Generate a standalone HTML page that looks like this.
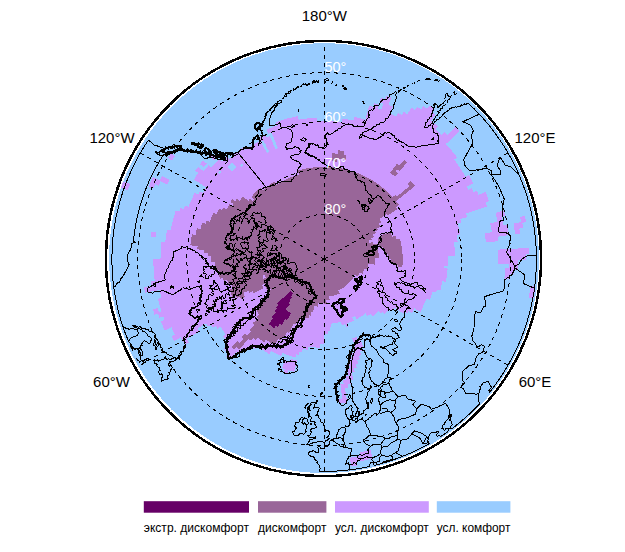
<!DOCTYPE html><html><head><meta charset="utf-8"><title>map</title><style>html,body{margin:0;padding:0;background:#fff}svg{display:block}text{font-family:"Liberation Sans",sans-serif}</style></head><body>
<svg width="625" height="552" viewBox="0 0 625 552">
<rect width="625" height="552" fill="#fff"/>
<defs><clipPath id="disc"><circle cx="324.0" cy="258.1" r="214.9"/></clipPath><clipPath id="d45"><circle cx="324.2" cy="259.1" r="212.9"/></clipPath></defs>
<circle cx="324.0" cy="258.1" r="214.9" fill="#99ccff" shape-rendering="crispEdges"/>
<g clip-path="url(#disc)" shape-rendering="crispEdges">
<path d="M121.8 180.9A217 217 0 0 0 119.5 187.1L124.2 188.8A212 212 0 0 1 126.5 182.7ZM125.4 182.3A213.1 213.1 0 0 0 123.2 188.4L127.9 190.1A208.1 208.1 0 0 1 130.1 184.1ZM533.6 298.4A213.1 213.1 0 0 0 535.5 286.5L530.5 285.8A208.1 208.1 0 0 1 528.7 297.4ZM351.1 466.5A209.2 209.2 0 0 0 357.4 465.6L356.6 460.7A204.2 204.2 0 0 1 350.4 461.6ZM350.6 462.7A205.3 205.3 0 0 0 372.5 458.6L371.4 453.8A200.3 200.3 0 0 1 349.9 457.7ZM529.4 254.2A205.3 205.3 0 0 0 529.2 247.9L524.2 248.2A200.3 200.3 0 0 1 524.4 254.3ZM526.1 222.1A205.3 205.3 0 0 0 524.9 216L520 217A200.3 200.3 0 0 1 521.2 223ZM360.5 457.2A201.4 201.4 0 0 0 371.6 454.8L370.5 450A196.4 196.4 0 0 1 359.6 452.3ZM525.6 259.5A201.4 201.4 0 0 0 525.3 248.1L520.3 248.4A196.4 196.4 0 0 1 520.6 259.5ZM523.2 228A201.4 201.4 0 0 0 522.1 222L517.3 222.9A196.4 196.4 0 0 1 518.3 228.8ZM521.7 259.5A197.5 197.5 0 0 0 521.4 248.3L516.5 248.6A192.6 192.6 0 0 1 516.8 259.5ZM520.1 233.7A197.5 197.5 0 0 0 518.3 222.7L513.5 223.6A192.6 192.6 0 0 1 515.2 234.4ZM517.6 269.6A193.7 193.7 0 0 0 517.6 248.6L512.7 248.8A188.8 188.8 0 0 1 512.7 269.4ZM153 177A189.9 189.9 0 0 0 148.6 186.8L153.2 188.7A185 185 0 0 1 157.4 179.1ZM513.5 274.4A189.9 189.9 0 0 0 513.8 248.8L508.9 249A185 185 0 0 1 508.6 274ZM171.1 153.4A186.1 186.1 0 0 0 167.9 158.1L172 160.7A181.2 181.2 0 0 1 175.1 156.2ZM156.4 178.6A186.1 186.1 0 0 0 154.1 183.8L158.5 185.8A181.2 181.2 0 0 1 160.8 180.8ZM509.2 278.9A186.1 186.1 0 0 0 510 268.4L505.2 268.2A181.2 181.2 0 0 1 504.4 278.4ZM510.2 264.4A186.1 186.1 0 0 0 510 249L505.1 249.2A181.2 181.2 0 0 1 505.3 264.2ZM508.7 235.2A186.1 186.1 0 0 0 507.1 224.8L502.3 225.7A181.2 181.2 0 0 1 503.9 235.8ZM505.2 216A186.1 186.1 0 0 0 503.8 210.6L499.1 211.8A181.2 181.2 0 0 1 500.5 217.2ZM459.4 131.3A186.1 186.1 0 0 0 455.5 127.3L452 130.7A181.2 181.2 0 0 1 455.9 134.7ZM433.9 108.8A186.1 186.1 0 0 0 429.3 105.5L426.5 109.6A181.2 181.2 0 0 1 431 112.7ZM162 176A182.3 182.3 0 0 0 159.5 181L163.9 183.1A177.4 177.4 0 0 1 166.3 178.2ZM144.1 287.2A182.3 182.3 0 0 0 145 292.7L149.8 291.8A177.4 177.4 0 0 1 148.9 286.5ZM506.4 264.3A182.3 182.3 0 0 0 506.2 249.2L501.4 249.4A177.4 177.4 0 0 1 501.5 264.1ZM505 235.7A182.3 182.3 0 0 0 500.2 211.6L495.5 212.8A177.4 177.4 0 0 1 500.1 236.3ZM456.7 133.9A182.3 182.3 0 0 0 452.8 129.9L449.4 133.4A177.4 177.4 0 0 1 453.2 137.2ZM435.5 114.7A182.3 182.3 0 0 0 423.2 106L420.5 110.1A177.4 177.4 0 0 1 432.5 118.6ZM165.3 177.7A178.5 178.5 0 0 0 162.9 182.6L167.3 184.7A173.7 173.7 0 0 1 169.6 179.9ZM147.8 286.7A178.5 178.5 0 0 0 148.7 292L153.5 291.1A173.7 173.7 0 0 1 152.6 285.9ZM152.9 309.4A178.5 178.5 0 0 0 154.5 314.6L159.1 313.1A173.7 173.7 0 0 1 157.6 308.1ZM502.6 264.1A178.5 178.5 0 0 0 502.5 249.4L497.6 249.6A173.7 173.7 0 0 1 497.8 264ZM501.2 236.2A178.5 178.5 0 0 0 498.7 221.6L494 222.6A173.7 173.7 0 0 1 496.4 236.8ZM454 136.5A178.5 178.5 0 0 0 450.2 132.6L446.7 136A173.7 173.7 0 0 1 450.4 139.8ZM433.2 117.7A178.5 178.5 0 0 0 417.2 106.7L414.6 110.8A173.7 173.7 0 0 1 430.2 121.5ZM151.6 231.4A174.8 174.8 0 0 0 150.9 236.7L155.7 237.3A169.9 169.9 0 0 1 156.4 232.2ZM150.9 281.5A174.8 174.8 0 0 0 152.4 291.3L157.2 290.4A169.9 169.9 0 0 1 155.7 280.9ZM157.9 312.8A174.8 174.8 0 0 0 159.6 317.8L164.1 316.2A169.9 169.9 0 0 1 162.5 311.3ZM160.9 321.4A174.8 174.8 0 0 0 164.7 330.5L169.1 328.5A169.9 169.9 0 0 1 165.4 319.7ZM498.1 241.2A174.8 174.8 0 0 0 495.1 222.4L490.3 223.4A169.9 169.9 0 0 1 493.2 241.7ZM489.1 201.1A174.8 174.8 0 0 0 485.5 191.9L481.1 193.7A169.9 169.9 0 0 1 484.5 202.7ZM451.2 139.1A174.8 174.8 0 0 0 444.2 132.1L440.9 135.6A169.9 169.9 0 0 1 447.7 142.4ZM438 126.4A174.8 174.8 0 0 0 411.3 107.6L408.9 111.8A169.9 169.9 0 0 1 434.8 130.1ZM391.4 97.8A174.8 174.8 0 0 0 386.5 95.8L384.8 100.3A169.9 169.9 0 0 1 389.6 102.2ZM153.2 258.7A171 171 0 0 0 156.1 290.6L160.8 289.7A166.2 166.2 0 0 1 158 258.8ZM157.8 298.7A171 171 0 0 0 168.1 329L172.5 327A166.2 166.2 0 0 1 162.5 297.6ZM171.6 336.4A171 171 0 0 0 174.1 341L178.3 338.7A166.2 166.2 0 0 1 175.9 334.3ZM494.3 241.6A171 171 0 0 0 493.1 232L488.3 232.8A166.2 166.2 0 0 1 489.5 242.1ZM487 206.6A171 171 0 0 0 482.1 193.3L477.6 195.2A166.2 166.2 0 0 1 482.4 208.1ZM448.5 141.6A171 171 0 0 0 409.4 110.8L407 115A166.2 166.2 0 0 1 445 144.9ZM390 101.2A171 171 0 0 0 381 97.8L379.4 102.3A166.2 166.2 0 0 1 388.1 105.7ZM156.9 258.7A167.3 167.3 0 0 0 177.3 339.2L181.5 336.9A162.5 162.5 0 0 1 161.7 258.8ZM490.6 242A167.3 167.3 0 0 0 489.4 232.6L484.7 233.3A162.5 162.5 0 0 1 485.9 242.5ZM483.4 207.7A167.3 167.3 0 0 0 476.9 190.7L472.5 192.7A162.5 162.5 0 0 1 478.9 209.2ZM473.4 183.5A167.3 167.3 0 0 0 468.9 175.1L464.8 177.5A162.5 162.5 0 0 1 469.2 185.6ZM457.2 157.5A167.3 167.3 0 0 0 403.7 111.9L401.4 116.1A162.5 162.5 0 0 1 453.3 160.4ZM392.6 106.4A167.3 167.3 0 0 0 383.8 102.8L382.1 107.3A162.5 162.5 0 0 1 390.6 110.8ZM161.5 241.7A163.6 163.6 0 0 0 184.9 344.9L188.9 342.4A158.8 158.8 0 0 1 166.3 242.2ZM479.9 208.9A163.6 163.6 0 0 0 471.7 188.4L467.4 190.4A158.8 158.8 0 0 1 475.4 210.3ZM470.1 185.1A163.6 163.6 0 0 0 398.2 113.2L396 117.4A158.8 158.8 0 0 1 465.9 187.3ZM391.1 109.8A163.6 163.6 0 0 0 382.5 106.2L380.8 110.7A158.8 158.8 0 0 1 389.1 114.1ZM379.1 105A163.6 163.6 0 0 0 374.4 103.4L373 107.9A158.8 158.8 0 0 1 377.5 109.5ZM167 229.6A159.9 159.9 0 0 0 185.9 339.4L190 337A155.2 155.2 0 0 1 171.7 230.5ZM476.4 210A159.9 159.9 0 0 0 369.3 105.7L368 110.2A155.2 155.2 0 0 1 471.9 211.5ZM203 160.5A156.3 156.3 0 0 0 200 164.2L203.8 167.1A151.5 151.5 0 0 1 206.7 163.5ZM198 167A156.3 156.3 0 0 0 195.2 170.9L199.2 173.5A151.5 151.5 0 0 1 201.8 169.8ZM175.7 210.5A156.3 156.3 0 0 0 189 337.5L193.1 335.1A151.5 151.5 0 0 1 180.2 212ZM472.9 211.1A156.3 156.3 0 0 0 368.3 109.2L366.9 113.7A151.5 151.5 0 0 1 468.4 212.6ZM213.7 153.8A152.6 152.6 0 0 0 210.6 157.2L214.1 160.4A147.9 147.9 0 0 1 217.2 157.1ZM200.9 169.1A152.6 152.6 0 0 0 193.9 179.6L198 182.1A147.9 147.9 0 0 1 204.8 171.9ZM180.5 207.9A152.6 152.6 0 0 0 192.2 335.7L196.3 333.3A147.9 147.9 0 0 1 184.9 209.4ZM469.4 212.2A152.6 152.6 0 0 0 367.2 112.7L365.9 117.2A147.9 147.9 0 0 1 464.9 213.7ZM208.6 165.1A149 149 0 0 0 197 181.5L201.1 184A144.2 144.2 0 0 1 212.3 168.1ZM185.2 205.4A149 149 0 0 0 195.3 333.9L199.4 331.5A144.2 144.2 0 0 1 189.6 207.1ZM467.1 217.1A149 149 0 0 0 366.2 116.2L364.9 120.7A144.2 144.2 0 0 1 462.6 218.4ZM298 116.1A145.3 145.3 0 0 0 275.4 122.2L277 126.6A140.6 140.6 0 0 1 298.9 120.8ZM219 158.8A145.3 145.3 0 0 0 200.1 183.4L204.1 185.9A140.6 140.6 0 0 1 222.4 162.1ZM194.8 192.8A145.3 145.3 0 0 0 196.6 328.7L200.8 326.5A140.6 140.6 0 0 1 199 195ZM339.1 403.7A145.3 145.3 0 0 0 347.2 402.6L346.5 397.9A140.6 140.6 0 0 1 338.6 399ZM463.6 218.1A145.3 145.3 0 0 0 354.1 116.9L353.1 121.5A140.6 140.6 0 0 1 459.1 219.4ZM317.1 117.6A141.7 141.7 0 0 0 266.3 129.7L268.2 134A137 137 0 0 1 317.3 122.2ZM226.9 156.1A141.7 141.7 0 0 0 203.2 185.3L207.2 187.8A137 137 0 0 1 230.1 159.5ZM199.8 191.2A141.7 141.7 0 0 0 199.8 327L203.9 324.7A137 137 0 0 1 203.9 193.5ZM342.4 399.7A141.7 141.7 0 0 0 346.7 399L345.9 394.4A137 137 0 0 1 341.8 395ZM461.2 222.7A141.7 141.7 0 0 0 342.4 118.5L341.8 123.2A137 137 0 0 1 456.6 223.9ZM265 134.3A138.1 138.1 0 0 0 258 137.9L260.3 142A133.4 133.4 0 0 1 267 138.5ZM243.2 147.2A138.1 138.1 0 0 0 219 169.6L222.6 172.7A133.4 133.4 0 0 1 246 151ZM217 172A138.1 138.1 0 0 0 203 325.3L207.1 323A133.4 133.4 0 0 1 220.7 174.9ZM226.3 356.6A138.1 138.1 0 0 0 229.3 359.5L232.6 356.1A133.4 133.4 0 0 1 229.6 353.3ZM341.9 396.1A138.1 138.1 0 0 0 346.1 395.5L345.3 390.8A133.4 133.4 0 0 1 341.3 391.4ZM460.1 234.2A138.1 138.1 0 0 0 271.1 131.6L272.9 135.9A133.4 133.4 0 0 1 455.5 235.1ZM269.7 136.1A134.5 134.5 0 0 0 262.9 139.4L265 143.5A129.9 129.9 0 0 1 271.6 140.4ZM260.3 140.7A134.5 134.5 0 0 0 231.4 161.7L234.6 165.1A129.9 129.9 0 0 1 262.5 144.8ZM226.8 166.3A134.5 134.5 0 0 0 207.8 326.6L211.9 324.3A129.9 129.9 0 0 1 230.2 169.5ZM224 348.9A134.5 134.5 0 0 0 231.8 356.9L235 353.5A129.9 129.9 0 0 1 227.5 345.8ZM341.5 392.5A134.5 134.5 0 0 0 345.5 391.9L344.8 387.3A129.9 129.9 0 0 1 340.9 387.9ZM457.6 241.8A134.5 134.5 0 0 0 272.5 134.9L274.3 139.2A129.9 129.9 0 0 1 453 242.4ZM271.2 139.4A131 131 0 0 0 264.5 142.5L266.6 146.7A126.3 126.3 0 0 1 273.1 143.6ZM262 143.9A131 131 0 0 0 233.9 164.3L237.1 167.7A126.3 126.3 0 0 1 264.2 148ZM229.4 168.8A131 131 0 0 0 212.7 327.8L216.7 325.3A126.3 126.3 0 0 1 232.8 172ZM224.4 343.9A131 131 0 0 0 234.3 354.3L237.5 350.9A126.3 126.3 0 0 1 228 340.9ZM341 389A131 131 0 0 0 348.3 387.8L347.5 383.2A126.3 126.3 0 0 1 340.4 384.3ZM455.1 255.9A131 131 0 0 0 273.8 138.2L275.6 142.5A126.3 126.3 0 0 1 450.5 256.1ZM272.6 142.6A127.4 127.4 0 0 0 266.1 145.7L268.2 149.9A122.7 122.7 0 0 1 274.5 146.9ZM263.6 147A127.4 127.4 0 0 0 241.3 162.4L244.3 165.9A122.7 122.7 0 0 1 265.9 151.1ZM239.2 164.2A127.4 127.4 0 0 0 217.5 328.7L221.4 326.2A122.7 122.7 0 0 1 242.3 167.7ZM223 336.4A127.4 127.4 0 0 0 239.2 354L242.3 350.5A122.7 122.7 0 0 1 226.7 333.6ZM343.9 385A127.4 127.4 0 0 0 350.9 383.7L350 379.1A122.7 122.7 0 0 1 343.1 380.4ZM451.6 256A127.4 127.4 0 0 0 275.2 141.5L277 145.8A122.7 122.7 0 0 1 446.9 256.1ZM274.1 145.9A123.8 123.8 0 0 0 267.7 148.9L269.9 153A119.2 119.2 0 0 1 275.9 150.1ZM265.3 150.1A123.8 123.8 0 0 0 241.5 351.3L244.6 347.8A119.2 119.2 0 0 1 267.5 154.2ZM346.5 380.9A123.8 123.8 0 0 0 353.4 379.5L352.3 374.9A119.2 119.2 0 0 1 345.7 376.3ZM445.9 281.9A123.8 123.8 0 0 0 447.7 268.6L443.1 268.2A119.2 119.2 0 0 1 441.4 281.1ZM447.9 265.8A123.8 123.8 0 0 0 276.6 144.8L278.4 149.1A119.2 119.2 0 0 1 443.2 265.6ZM283.8 372.4A120.3 120.3 0 0 0 287.3 373.6L288.7 369.2A115.7 115.7 0 0 1 285.4 368.1ZM349 376.8A120.3 120.3 0 0 0 352.5 376L351.4 371.5A115.7 115.7 0 0 1 348 372.3ZM440.3 290.5A120.3 120.3 0 1 0 246.3 350.7L249.3 347.2A115.7 115.7 0 1 1 435.9 289.3ZM282.1 368A116.8 116.8 0 0 0 294.2 372L295.4 367.5A112.1 112.1 0 0 1 283.8 363.7ZM348.2 373.4A116.8 116.8 0 0 0 354.7 371.8L353.5 367.4A112.1 112.1 0 0 1 347.3 368.8ZM436.1 292.5A116.8 116.8 0 1 0 250.9 350L253.8 346.4A112.1 112.1 0 1 1 431.7 291.2ZM283.4 364.7A113.2 113.2 0 0 0 295.1 368.5L296.3 364.1A108.6 108.6 0 0 1 285.1 360.4ZM350.4 369.3A113.2 113.2 0 0 0 356.6 367.6L355.3 363.2A108.6 108.6 0 0 1 349.3 364.8ZM429.8 299.9A113.2 113.2 0 1 0 255.4 349.1L258.2 345.4A108.6 108.6 0 1 1 425.5 298.2ZM290.1 363.4A109.7 109.7 0 0 0 296 365.2L297.2 360.7A105.1 105.1 0 0 1 291.5 359ZM349.6 365.9A109.7 109.7 0 0 0 358.3 363.4L356.9 359A105.1 105.1 0 0 1 348.5 361.4ZM420.5 311.7A109.7 109.7 0 1 0 269.5 354.2L271.8 350.3A105.1 105.1 0 1 1 416.5 309.5ZM351.5 361.8A106.2 106.2 0 0 0 359.9 359.2L358.3 354.8A101.6 101.6 0 0 1 350.3 357.3ZM417.5 310A106.2 106.2 0 1 0 281.2 356.2L283.1 352A101.6 101.6 0 1 1 413.4 307.8ZM353.2 357.7A102.7 102.7 0 0 0 361.2 354.9L359.6 350.7A98.2 98.2 0 0 1 351.9 353.3ZM411.7 313A102.7 102.7 0 1 0 295.2 357.7L296.5 353.3A98.2 98.2 0 1 1 407.8 310.6ZM354.7 353.6A99.3 99.3 0 0 0 362.4 350.7L360.6 346.5A94.7 94.7 0 0 1 353.3 349.2ZM407.3 313.3A99.3 99.3 0 1 0 298.7 355L299.9 350.6A94.7 94.7 0 1 1 403.5 310.8ZM356 349.5A95.8 95.8 0 0 0 363.3 346.5L361.5 342.4A91.2 91.2 0 0 1 354.5 345.2ZM403 313.5A95.8 95.8 0 1 0 302 352.3L303.1 347.8A91.2 91.2 0 1 1 399.3 310.9ZM354.8 346.2A92.3 92.3 0 0 0 361.9 343.4L360.1 339.2A87.8 87.8 0 0 1 353.3 341.9ZM400.2 311.6A92.3 92.3 0 1 0 307.6 349.9L308.4 345.4A87.8 87.8 0 1 1 396.4 309ZM353.7 342.9A88.9 88.9 0 0 0 358.4 341.1L356.6 336.9A84.3 84.3 0 0 1 352.2 338.6ZM397.3 309.6A88.9 88.9 0 1 0 319.7 347.9L320 343.3A84.3 84.3 0 1 1 393.6 307ZM391.9 311.2A85.4 85.4 0 1 0 324.4 344.5L324.4 340A80.9 80.9 0 1 1 388.3 308.5ZM385 314.1A82 82 0 1 0 324.4 341.1L324.4 336.5A77.4 77.4 0 1 1 381.6 311ZM381.1 313.3A78.5 78.5 0 1 0 324.4 337.6L324.4 333.1A74 74 0 1 1 377.8 310.2ZM372.9 316.3A75.1 75.1 0 1 0 328.3 334.1L328 329.6A70.6 70.6 0 1 1 369.9 312.9ZM346.2 327.3A71.7 71.7 0 0 0 348.3 326.6L346.8 322.4A67.2 67.2 0 0 1 344.8 323ZM367.7 316.1A71.7 71.7 0 1 0 330 330.6L329.6 326.1A67.2 67.2 0 1 1 365 312.5ZM341.7 325.1A68.3 68.3 0 0 0 353.7 320.7L351.8 316.6A63.8 63.8 0 0 1 340.6 320.7ZM356.7 319.2A68.3 68.3 0 1 0 331.5 327L331 322.5A63.8 63.8 0 1 1 354.5 315.2ZM324.2 324A64.9 64.9 0 1 0 324.2 194.2A64.9 64.9 0 1 0 324.2 324ZM324.2 319.5A60.4 60.4 0 1 1 324.2 198.7A60.4 60.4 0 1 1 324.2 319.5ZM324.2 320.6A61.5 61.5 0 1 0 324.2 197.6A61.5 61.5 0 1 0 324.2 320.6ZM324.2 316.1A57 57 0 1 1 324.2 202.1A57 57 0 1 1 324.2 316.1ZM324.2 317.2A58.1 58.1 0 1 0 324.2 201A58.1 58.1 0 1 0 324.2 317.2ZM324.2 312.7A53.6 53.6 0 1 1 324.2 205.5A53.6 53.6 0 1 1 324.2 312.7ZM324.2 313.8A54.7 54.7 0 1 0 324.2 204.4A54.7 54.7 0 1 0 324.2 313.8ZM324.2 309.3A50.2 50.2 0 1 1 324.2 208.9A50.2 50.2 0 1 1 324.2 309.3ZM324.2 310.4A51.3 51.3 0 1 0 324.2 207.8A51.3 51.3 0 1 0 324.2 310.4ZM324.2 305.9A46.8 46.8 0 1 1 324.2 212.3A46.8 46.8 0 1 1 324.2 305.9ZM324.2 307A47.9 47.9 0 1 0 324.2 211.2A47.9 47.9 0 1 0 324.2 307ZM324.2 302.5A43.4 43.4 0 1 1 324.2 215.7A43.4 43.4 0 1 1 324.2 302.5ZM324.2 303.6A44.5 44.5 0 1 0 324.2 214.6A44.5 44.5 0 1 0 324.2 303.6ZM324.2 299.1A40 40 0 1 1 324.2 219.1A40 40 0 1 1 324.2 299.1ZM324.2 300.2A41.1 41.1 0 1 0 324.2 218A41.1 41.1 0 1 0 324.2 300.2ZM324.2 295.8A36.7 36.7 0 1 1 324.2 222.4A36.7 36.7 0 1 1 324.2 295.8ZM324.2 296.9A37.8 37.8 0 1 0 324.2 221.3A37.8 37.8 0 1 0 324.2 296.9ZM324.2 292.4A33.3 33.3 0 1 1 324.2 225.8A33.3 33.3 0 1 1 324.2 292.4ZM324.2 293.5A34.4 34.4 0 1 0 324.2 224.7A34.4 34.4 0 1 0 324.2 293.5ZM324.2 289A29.9 29.9 0 1 1 324.2 229.2A29.9 29.9 0 1 1 324.2 289ZM324.2 290.1A31 31 0 1 0 324.2 228.1A31 31 0 1 0 324.2 290.1ZM324.2 285.7A26.6 26.6 0 1 1 324.2 232.5A26.6 26.6 0 1 1 324.2 285.7ZM324.2 286.8A27.7 27.7 0 1 0 324.2 231.4A27.7 27.7 0 1 0 324.2 286.8ZM324.2 282.3A23.2 23.2 0 1 1 324.2 235.9A23.2 23.2 0 1 1 324.2 282.3ZM324.2 283.4A24.3 24.3 0 1 0 324.2 234.8A24.3 24.3 0 1 0 324.2 283.4ZM324.2 278.9A19.8 19.8 0 1 1 324.2 239.3A19.8 19.8 0 1 1 324.2 278.9ZM324.2 280A20.9 20.9 0 1 0 324.2 238.2A20.9 20.9 0 1 0 324.2 280ZM324.2 275.6A16.5 16.5 0 1 1 324.2 242.6A16.5 16.5 0 1 1 324.2 275.6ZM324.2 276.7A17.6 17.6 0 1 0 324.2 241.5A17.6 17.6 0 1 0 324.2 276.7ZM324.2 272.2A13.1 13.1 0 1 1 324.2 246A13.1 13.1 0 1 1 324.2 272.2ZM324.2 273.3A14.2 14.2 0 1 0 324.2 244.9A14.2 14.2 0 1 0 324.2 273.3ZM324.2 268.9A9.8 9.8 0 1 1 324.2 249.3A9.8 9.8 0 1 1 324.2 268.9ZM324.2 270A10.9 10.9 0 1 0 324.2 248.2A10.9 10.9 0 1 0 324.2 270ZM324.2 265.5A6.4 6.4 0 1 1 324.2 252.7A6.4 6.4 0 1 1 324.2 265.5ZM324.2 266.6A7.5 7.5 0 1 0 324.2 251.6A7.5 7.5 0 1 0 324.2 266.6ZM324.2 262.2A3.1 3.1 0 1 1 324.2 256A3.1 3.1 0 1 1 324.2 262.2ZM324.2 263.3A4.2 4.2 0 1 0 324.2 254.9A4.2 4.2 0 1 0 324.2 263.3ZM324.2 259.1A0 0 0 1 1 324.2 259.1A0 0 0 1 1 324.2 259.1Z" fill="#cc99ff"/>
<path d="M192 234.3A134.5 134.5 0 0 0 190.4 245.3L195 245.8A129.9 129.9 0 0 1 196.6 235.2ZM196.9 228.3A131 131 0 0 0 193.9 245.7L198.6 246.2A126.3 126.3 0 0 1 201.5 229.4ZM202.1 222.7A127.4 127.4 0 0 0 197.2 249.4L201.8 249.7A122.7 122.7 0 0 1 206.6 224ZM231.6 346.6A127.4 127.4 0 0 0 234.3 349.4L237.6 346.1A122.7 122.7 0 0 1 235 343.4ZM407.1 162.4A127.4 127.4 0 0 0 404.2 159.9L401.2 163.6A122.7 122.7 0 0 1 404.1 165.9ZM206.5 220.6A123.8 123.8 0 0 0 200.7 249.6L205.3 250A119.2 119.2 0 0 1 210.9 222ZM234.2 344.2A123.8 123.8 0 0 0 239.1 349.1L242.3 345.7A119.2 119.2 0 0 1 237.6 341ZM404.8 165.1A123.8 123.8 0 0 0 401.9 162.7L399 166.3A119.2 119.2 0 0 1 401.8 168.6ZM213.2 212.8A120.3 120.3 0 0 0 204.1 253.1L208.7 253.3A115.7 115.7 0 0 1 217.4 214.6ZM239 344A120.3 120.3 0 0 0 241.6 346.5L244.8 343.2A115.7 115.7 0 0 1 242.2 340.7ZM402.5 167.8A120.3 120.3 0 0 0 397.2 163.5L394.4 167.2A115.7 115.7 0 0 1 399.5 171.3ZM218.9 208.6A116.8 116.8 0 0 0 207.5 256.3L212.1 256.4A112.1 112.1 0 0 1 223.1 210.6ZM241.5 341.5A116.8 116.8 0 0 0 244 344L247.2 340.6A112.1 112.1 0 0 1 244.7 338.2ZM415.1 185.8A116.8 116.8 0 0 0 410.8 180.8L407.4 183.9A112.1 112.1 0 0 1 411.5 188.7ZM397.9 168.5A116.8 116.8 0 0 0 395.1 166.3L392.3 170A112.1 112.1 0 0 1 395 172.1ZM223.4 207.5A113.2 113.2 0 0 0 211 262.3L215.6 262.2A108.6 108.6 0 0 1 227.5 209.6ZM241.9 336.9A113.2 113.2 0 0 0 246.4 341.4L249.6 338.1A108.6 108.6 0 0 1 245.2 333.7ZM412.4 188A113.2 113.2 0 0 0 410.2 185.4L406.7 188.4A108.6 108.6 0 0 1 408.8 190.9ZM397.9 173.1A113.2 113.2 0 0 0 393 169.1L390.2 172.8A108.6 108.6 0 0 1 394.9 176.6ZM232.3 199.1A109.7 109.7 0 0 0 230.5 202L234.4 204.4A105.1 105.1 0 0 1 236.1 201.7ZM229.3 204A109.7 109.7 0 0 0 215.1 270.8L219.7 270.3A105.1 105.1 0 0 1 233.3 206.3ZM246.4 336.5A109.7 109.7 0 0 0 250.9 340.8L254 337.4A105.1 105.1 0 0 1 249.7 333.3ZM409.6 190.2A109.7 109.7 0 0 0 407.5 187.7L404 190.7A105.1 105.1 0 0 1 406 193.1ZM344.4 151.2A109.7 109.7 0 0 0 338.3 150.3L337.7 154.8A105.1 105.1 0 0 1 343.6 155.8ZM236.8 198.7A106.2 106.2 0 0 0 219.8 278.7L224.3 277.8A101.6 101.6 0 0 1 240.6 201.4ZM248.9 334.1A106.2 106.2 0 0 0 255.4 340L258.4 336.5A101.6 101.6 0 0 1 252.2 330.8ZM406.9 192.4A106.2 106.2 0 0 0 404.8 189.9L401.4 192.9A101.6 101.6 0 0 1 403.3 195.3ZM346.5 155.2A106.2 106.2 0 0 0 332.3 153.2L332 157.8A101.6 101.6 0 0 1 345.5 159.7ZM242.8 196.4A102.7 102.7 0 0 0 223.7 280.7L228.2 279.7A98.2 98.2 0 0 1 246.4 199.2ZM249.5 329.7A102.7 102.7 0 0 0 264 342.3L266.7 338.6A98.2 98.2 0 0 1 252.9 326.5ZM404.2 194.6A102.7 102.7 0 0 0 402.2 192.2L398.7 195.2A98.2 98.2 0 0 1 400.6 197.5ZM337.8 157.3A102.7 102.7 0 0 0 332 156.7L331.7 161.2A98.2 98.2 0 0 1 337.2 161.8ZM245.6 198.5A99.3 99.3 0 0 0 228.4 285L232.8 283.8A94.7 94.7 0 0 1 249.2 201.3ZM229.7 289.6A99.3 99.3 0 0 0 232.6 297.3L236.8 295.5A94.7 94.7 0 0 1 234.1 288.2ZM252.1 327.3A99.3 99.3 0 0 0 274.8 345.2L277 341.2A94.7 94.7 0 0 1 255.4 324.1ZM401.5 196.8A99.3 99.3 0 0 0 399.5 194.5L396.1 197.5A94.7 94.7 0 0 1 397.9 199.7ZM260.3 187.8A95.8 95.8 0 0 0 251.2 197L254.7 200A91.2 91.2 0 0 1 263.3 191.2ZM249.9 198.7A95.8 95.8 0 0 0 236.8 298.2L240.9 296.4A91.2 91.2 0 0 1 253.4 201.5ZM252.9 323A95.8 95.8 0 0 0 276.5 342.2L278.8 338.2A91.2 91.2 0 0 1 256.3 320ZM398.8 199A95.8 95.8 0 0 0 395.2 194.9L391.9 197.9A91.2 91.2 0 0 1 395.2 201.8ZM274.1 181.6A92.3 92.3 0 0 0 241 299L245.1 297A87.8 87.8 0 0 1 276.6 185.4ZM255.5 320.7A92.3 92.3 0 0 0 280.3 340.3L282.5 336.3A87.8 87.8 0 0 1 258.9 317.7ZM399 205A92.3 92.3 0 0 0 297.8 170.6L299.1 175A87.8 87.8 0 0 1 395.3 207.7ZM256.5 316.7A88.9 88.9 0 0 0 284 338.4L286.1 334.3A84.3 84.3 0 0 1 260 313.7ZM397.5 208.9A88.9 88.9 0 0 0 242.2 293.3L246.4 291.5A84.3 84.3 0 0 1 393.8 211.5ZM256.3 311A85.4 85.4 0 0 0 285.6 335.3L287.6 331.2A80.9 80.9 0 0 1 259.9 308.2ZM394.7 210.9A85.4 85.4 0 0 0 245.4 292L249.5 290.2A80.9 80.9 0 0 1 390.9 213.4ZM257.8 307.1A82 82 0 0 0 289.1 333.2L291 329.1A77.4 77.4 0 0 1 261.5 304.5ZM391.9 212.8A82 82 0 0 0 249.4 292.6L253.5 290.7A77.4 77.4 0 0 1 388.1 215.4ZM259.4 303.4A78.5 78.5 0 0 0 290.5 330.1L292.5 326A74 74 0 0 1 263.1 300.9ZM402.3 267.5A78.5 78.5 0 0 0 400 238.6L395.6 239.8A74 74 0 0 1 397.8 267ZM387.8 213.1A78.5 78.5 0 0 0 253.4 293.1L257.5 291.1A74 74 0 0 1 384.2 215.7ZM262.2 301.5A75.1 75.1 0 0 0 292 327L293.9 322.9A70.6 70.6 0 0 1 265.9 299ZM399.1 265.1A75.1 75.1 0 0 0 395.6 235.7L391.3 237.1A70.6 70.6 0 0 1 394.6 264.8ZM385.1 215.1A75.1 75.1 0 0 0 256.5 291.6L260.6 289.6A70.6 70.6 0 0 1 381.4 217.7ZM264 298A71.7 71.7 0 0 0 295.2 324.7L297 320.5A67.2 67.2 0 0 1 267.8 295.6ZM395.8 263A71.7 71.7 0 0 0 390.4 231.5L386.2 233.3A67.2 67.2 0 0 1 391.3 262.8ZM382.3 217.1A71.7 71.7 0 0 0 259.6 290.1L263.6 288.1A67.2 67.2 0 0 1 378.6 219.7ZM265.9 294.6A68.3 68.3 0 0 0 298.2 322.2L299.9 318.1A63.8 63.8 0 0 1 269.8 292.3ZM392.5 259.2A68.3 68.3 0 0 0 387.2 232.8L383.1 234.6A63.8 63.8 0 0 1 388 259.2ZM381.5 222A68.3 68.3 0 0 0 261.2 285.4L265.3 283.6A63.8 63.8 0 0 1 377.7 224.5ZM262.5 279A64.9 64.9 0 0 0 267.3 290.2L271.2 288A60.4 60.4 0 0 1 266.8 277.6ZM268 291.4A64.9 64.9 0 0 0 302.7 320.3L304.2 316A60.4 60.4 0 0 1 271.9 289.2ZM388.9 254.1A64.9 64.9 0 0 0 384.1 234.2L379.9 235.9A60.4 60.4 0 0 1 384.4 254.5ZM380.4 226.8A64.9 64.9 0 0 0 261.6 276L265.9 274.8A60.4 60.4 0 0 1 376.5 229ZM384.3 246.4A61.5 61.5 0 0 0 381.5 237L377.3 238.6A57 57 0 0 1 379.9 247.4ZM378.3 229.9A61.5 61.5 0 1 0 308.4 318.5L309.6 314.1A57 57 0 1 1 374.3 232ZM376 232.8A58.1 58.1 0 1 0 310.8 315.6L311.8 311.2A53.6 53.6 0 1 1 372 234.9ZM378.9 257.8A54.7 54.7 0 0 0 376.6 243.5L372.3 244.7A50.2 50.2 0 0 1 374.4 257.9ZM374.2 237A54.7 54.7 0 1 0 312.9 312.6L313.9 308.2A50.2 50.2 0 1 1 370.1 238.8ZM375.2 264.6A51.3 51.3 0 0 0 372.5 241.9L368.3 243.4A46.8 46.8 0 0 1 370.7 264.1ZM371.6 239.6A51.3 51.3 0 1 0 313.6 309.3L314.6 304.9A46.8 46.8 0 1 1 367.5 241.3ZM371.8 264.2A47.9 47.9 0 1 0 318 306.6L318.6 302.2A43.4 43.4 0 1 1 367.4 263.7ZM367.5 269.6A44.5 44.5 0 1 0 326.6 303.5L326.4 299.1A40 40 0 1 1 363.1 268.5ZM362.6 273.9A41.1 41.1 0 1 0 329.7 299.9L329.1 295.4A36.7 36.7 0 1 1 358.4 272.3ZM357.8 276.3A37.8 37.8 0 1 0 339.6 293.6L337.8 289.5A33.3 33.3 0 1 1 353.8 274.3ZM324.2 293.5A34.4 34.4 0 1 0 324.2 224.7A34.4 34.4 0 1 0 324.2 293.5ZM324.2 289A29.9 29.9 0 1 1 324.2 229.2A29.9 29.9 0 1 1 324.2 289ZM324.2 290.1A31 31 0 1 0 324.2 228.1A31 31 0 1 0 324.2 290.1ZM324.2 285.7A26.6 26.6 0 1 1 324.2 232.5A26.6 26.6 0 1 1 324.2 285.7ZM324.2 286.8A27.7 27.7 0 1 0 324.2 231.4A27.7 27.7 0 1 0 324.2 286.8ZM324.2 282.3A23.2 23.2 0 1 1 324.2 235.9A23.2 23.2 0 1 1 324.2 282.3ZM324.2 283.4A24.3 24.3 0 1 0 324.2 234.8A24.3 24.3 0 1 0 324.2 283.4ZM324.2 278.9A19.8 19.8 0 1 1 324.2 239.3A19.8 19.8 0 1 1 324.2 278.9ZM324.2 280A20.9 20.9 0 1 0 324.2 238.2A20.9 20.9 0 1 0 324.2 280ZM324.2 275.6A16.5 16.5 0 1 1 324.2 242.6A16.5 16.5 0 1 1 324.2 275.6ZM324.2 276.7A17.6 17.6 0 1 0 324.2 241.5A17.6 17.6 0 1 0 324.2 276.7ZM324.2 272.2A13.1 13.1 0 1 1 324.2 246A13.1 13.1 0 1 1 324.2 272.2ZM324.2 273.3A14.2 14.2 0 1 0 324.2 244.9A14.2 14.2 0 1 0 324.2 273.3ZM324.2 268.9A9.8 9.8 0 1 1 324.2 249.3A9.8 9.8 0 1 1 324.2 268.9ZM324.2 270A10.9 10.9 0 1 0 324.2 248.2A10.9 10.9 0 1 0 324.2 270ZM324.2 265.5A6.4 6.4 0 1 1 324.2 252.7A6.4 6.4 0 1 1 324.2 265.5ZM324.2 266.6A7.5 7.5 0 1 0 324.2 251.6A7.5 7.5 0 1 0 324.2 266.6ZM324.2 262.2A3.1 3.1 0 1 1 324.2 256A3.1 3.1 0 1 1 324.2 262.2ZM324.2 263.3A4.2 4.2 0 1 0 324.2 254.9A4.2 4.2 0 1 0 324.2 263.3ZM324.2 259.1A0 0 0 1 1 324.2 259.1A0 0 0 1 1 324.2 259.1Z" fill="#996699"/>
<path d="M268.6 323.9A85.4 85.4 0 0 0 274.1 328.3L276.8 324.6A80.9 80.9 0 0 1 271.5 320.5ZM270.8 321.3A82 82 0 0 0 277.9 326.8L280.5 323A77.4 77.4 0 0 1 273.8 317.9ZM271.5 317.4A78.5 78.5 0 0 0 281.6 325.1L284 321.3A74 74 0 0 1 274.6 314ZM273.8 314.8A75.1 75.1 0 0 0 283.4 322.2L285.9 318.4A70.6 70.6 0 0 1 276.9 311.5ZM274.7 311A71.7 71.7 0 0 0 286.9 320.3L289.2 316.4A67.2 67.2 0 0 1 277.9 307.7ZM275.8 307.3A68.3 68.3 0 0 0 288.7 317.4L291 313.5A63.8 63.8 0 0 1 279 304.1ZM277.1 303.6A64.9 64.9 0 0 0 284.8 310.6L287.6 307.1A60.4 60.4 0 0 1 280.3 300.6ZM279.5 301.3A61.5 61.5 0 0 0 286.9 307.9L289.6 304.4A57 57 0 0 1 282.8 298.2ZM282 299A58.1 58.1 0 0 0 287.8 304.3L290.6 300.8A53.6 53.6 0 0 1 285.3 295.9ZM284.5 296.6A54.7 54.7 0 0 0 288.8 300.7L291.7 297.3A50.2 50.2 0 0 1 287.7 293.6ZM286.9 294.3A51.3 51.3 0 0 0 290 297.3L293 293.9A46.8 46.8 0 0 1 290.2 291.2Z" fill="#660066"/>
</g>
<g clip-path="url(#d45)" fill="none" stroke="#000" stroke-width="1" stroke-linejoin="round" shape-rendering="crispEdges">
<path d="M319.7 471.9L319.7 470.6L319.6 469.4L320.4 468.2L319.5 467.2L320 466.1L319.7 465.1L318.5 464.8L317.8 463.5L316.9 462.6L317.1 461.4L316.3 460.5L315.1 459.7L314.4 458.2L313.6 457L311.8 456.9L311 456.6L310.1 455.8L309.2 455.2L308.7 454.7L308.1 453.7L309.3 452.3L309.7 451.3L311.1 452.1L312 451.1L313.1 450.9L314.1 450.9L315.1 451.8L315.5 452.9L317.5 452.2L318.8 452.8L319 451.2L318.7 449.6L318.5 448.3L317.4 447.3L319 446.5L319.9 446.7L320.3 448.7L322.1 448.8L323.6 448.9L324.6 448.3L324.8 447.1L325.8 446.4L327.2 446.5L328.2 445.8L328.5 444.6L329.4 444.1L329.4 442.5L329.8 441L330.8 440.8L332 439.6L333.5 439.8L334 438.1L335.8 438.1L336.5 437L336.1 435.5L337.2 434.3L337.3 432.7L338.3 431.5L338.6 430L339.3 429.2L340.5 428.7L341.2 427.6L342.6 427.6L343.7 427.5L344.9 427.4L345.2 425.8L346.4 426.3L347.6 426.6L349.1 425.7L349.4 424.2L350.2 423.5L350.1 423L349.6 422.1L349.6 420.6L348.9 419.2L347.5 418.1L347 416.6L346.9 415.3L345.7 414.5L346 412.8L345.4 411.4L345.9 409.8L346.3 408.5L348.2 408.4L349 406.9L350 406L351.1 404.9L351 406.3L352.3 407.3L351.6 408.7L351.3 409.9L352.2 411L353.3 411.4L352.4 411.6L352.4 413L352.2 414.3L351.7 415.2L350.6 415.7L350.5 417.2L351.6 418.4L352.4 418.9L353 420.5L354 420.6L355.1 421.2L355.9 422.6L357.1 421.5L358.3 420.4L359.7 419.7L361.2 419.2L362.6 419.2L363.4 420.8L365.4 421.2L366.5 420.2L367.7 419.5L368.8 418.7L369.3 417.3L370.8 417.2L371.4 416.2L372.3 415.4L373.2 414.9L374.1 413.8L375.2 413.3L376.4 413.9L376.5 415.2L377.7 414.1L378.9 413.6L379 412.7L379.2 411.3L380.1 410.3L380.4 409.2L381 408.2L380.8 407.6L380.4 406.5L380.4 405.3L379.5 404.4L380 402.7L379.1 401.7L378.5 400.5L378.6 399.3L378.7 398.1L380 397L380.9 395.7L382.1 397.1L383.1 397.9L384.7 397.5L386 397.8L385.8 395.9L385.1 395L384.7 393.6L384.4 392.5L385 391.4L383 391.5L381.5 391.3L381.6 389.3L380.5 388.5L380.9 387.1L382.2 386.3L382.8 385L384.2 384.9L385.6 384.8L386.6 384.3L387.6 383.7L388.6 382.7L389.4 381.4L390 380L391.5 379.2L392.4 378.6L393.6 378.6L392.5 378.5L391.4 378.7L390.3 377.9L389.1 377L387.5 377.7L386.4 378.4L385.3 378.9L384.3 379.9L383.9 381.3L382.7 381.8L382 382.8L381.3 384L380.4 384.8L379.2 385.4L378.3 386.2L377.4 385.1L376.2 384.3L374.9 384.7L374.1 383.5L373 382.9L373 382.2L371.8 381.4L371.3 380.4L370.8 379.3L370.3 378.2L369.7 377L369.7 375.8L369.5 374.6L368.9 373.7L368.9 372.7L369.6 371.6L370.2 370.5L369.5 368.9L370.5 367.6L371.1 366.7L371.3 365.6L371.7 364.5L371.7 363.3L371.6 362L372.7 361.1L371.5 359.8L371 359L370.2 358.4L369.1 359.5L367.7 360.1L366 360L365.7 361.7L366.2 362.9L366 364.1L366.2 364.9L365.5 366.2L365.9 367.3L366.7 368.4L365.6 369.5L365.3 370.7L365.3 371.7L365.1 373L364.3 373.9L364.6 375.3L364.4 376.6L362.8 377.6L362.6 378.8L362.1 380.1L361.8 381.3L362.7 382.3L362.4 383.5L362.8 384.7L363.9 385.8L364.1 387L365.1 387.3L366.4 387.6L367.4 388.5L368.5 388.9L369.1 389.8L368.9 391.6L367.4 392.6L367.9 393.9L367.6 395L367.3 396L366.2 396.7L366 398.1L365.6 399.6L366.5 400.8L366.8 402.3L367 403.6L367.9 404.7L367.6 406.1L367.7 407.5L367.8 408.9L365.9 408.9L365.1 410.1L363.9 410.2L363.3 411.2L363.4 412.3L363.5 413.4L362.2 413.8L361.1 414.1L360 414.3L359.1 413.4L359.3 411.8L357.6 410.9L357.5 409.6L358.3 408.6L357.1 407.6L356.3 406.6L355.6 405.5L355.4 404.5L354.4 403.9L353.9 402.8L353.2 401.9L352.5 400.8L352.3 399.6L351.5 398.6L350.8 397.9L350.1 397.4L350.4 395.9L349.8 394.5L348.9 396L348.7 397.5L349.1 398.7L348.2 399.6L347 400.4L346.3 401.6L346.4 403.3L345.4 404L344.3 404.3L343.7 405.3L342.2 405.1L341 405.2L340.3 403.7L339.6 402.9L338.9 402L337.8 401.1L338.3 399.5L337 398.1L336.3 397.2L337.2 396L337.2 394.8L335.8 393.6L336.4 391.9L335.6 390.9L335.6 389.7L336.2 388.2L335.8 386.8L335.4 385.7L336.2 384.8L337.3 383.8L338.1 382.6L338.9 381.4L340 380.5L341.4 379.7L341.8 378L343.2 377.9L344.1 377.1L344.1 375.6L345 374.5L345.8 373.6L346 372.5L345.9 371.3L347.5 370.7L347.7 369.5L348.4 368.6L347.4 367.1L347.8 366L347.6 364.8L348.8 363.8L348.3 362.5L348.3 361.3L349 360.2L349.9 359.1L350.1 357.9L349.8 356.4L350 355.1L351.5 354L351.4 352.6L352.1 351.3L351.8 349.7L352 348.6L353.2 347.8L353.2 346.6L353.3 345.2L354.9 344.5L355.4 343.6L356.5 342.9L356.6 341.2L358.3 340.8L358 339.1L359.6 338.7L359.8 337.6L360.4 336.6L361.2 336L362.7 336.1L363.7 334.9L365.6 334.8L366.7 335.2L367.7 334.8L368.9 334.7L370.1 334.9L370.6 336.8L370.3 338.2L370.9 337.5L372 337.1L373.5 337.6L374.9 336.9L376.5 336.7L377.5 335.9L378.6 335.7L379.5 334.9L381 335.4L382.2 335.2L383.2 336.3L384.4 336.2L385.5 335.7L386.6 336.1L387.7 336.7L388.8 335.6L389.8 336.9L391 336.7L392 337.1L392.7 338.4L394.2 338.8L393.9 340.4L393.4 341.8L392.3 342.7L392.2 344.5L390.6 344.3L389.4 344.9L388.1 345.4L387.1 345.9L385.9 346.2L384.9 346.9L384 347.2L383 347.8L381.6 347.4L380.7 347.5L379.7 347L381.2 346.6L381.8 348L382.8 348.5L384.1 348.8L385.4 348.8L386.6 349.3L387.5 350.4L388.2 351.4L389.4 352.1L389.9 353.3L390.8 354L392 355L393.4 355.1L394.5 354.1L395.4 353.4L396.7 353.9L396.1 352.3L396 351.3L394.6 351.3L393.5 350.2L392.3 349.5L393.4 349.2L394.4 348.6L395.5 348.8L396.2 347.7L397.3 347.7L398.2 347.1L397.6 346.4L396.5 345.3L395.5 344.7L394.7 343.5L394.7 342L395.4 341L395.6 339.8L396.2 338.7L397.2 338.4L398.4 337.9L399.7 337.6L398.5 336.1L397.6 335.1L397.4 333.4L395.6 333.5L395 332.1L393.9 331.5L392.4 331.5L391.9 329.9L390.9 329.1L391.6 329.2L392.6 328.8L393.5 328.8L394.4 327.7L395.5 328L396.7 328.7L397.7 329.9L398.9 330.6L400.5 330.3L401.7 329.7L401.7 328.3L400.9 327.3L400.4 326.2L400 324.9L399.9 323.5L400.2 322.1L401 321.1L401.2 320L402.6 319.4L402.7 318.3L404.2 317.2L404.4 315.7L404.6 314.2L404.7 313.1L404.5 311.8L405.9 311L406.1 309.6L406 308.3L407.1 308.3L408.2 308.4L409.3 307.6L409 306.8L407.8 305.7L406.7 305.8L405.6 305.2L404.5 304.2L404.4 303.2L405.5 302.3L406.5 302.1L407.2 300.9L408 300.1L409.1 299.6L410.7 299.7L411.8 299.3L412.7 298.6L413.7 298.1L414.4 297L415.2 296.1L416.2 295.2L415.6 294.5L414.2 294.2L413.4 293.2L412.4 294.2L411.3 294.4L410.1 294.3L408.9 294L407.7 293.8L406.4 293.7L405.1 294.1L404.1 293.1L403.1 292.4L402 291.7L401 291.1L401.2 289.6L399.8 289.3L399.4 287.8L398.4 287.2L396.6 287.6L396.1 286L395.7 284.7L396.7 284.3L397 282.7L398.2 282.4L399.3 282.3L400.4 283.3L401.8 282.8L402.7 283.8L404.1 283.7L405.1 284.6L406.1 285.5L407.5 284.7L408.4 285.9L409.6 285.7L410.7 286.7L412.1 286.9L413.6 286.8L414.6 288.2L416.1 287.2L417.3 286.1L418.9 286.7L419.6 287.8L420.7 288.3L421.8 288.7L423 289.3L423.8 290.3L424.8 291.1L425.3 292.4L424.6 291.2L425.3 289.8L425.1 288.7L423.2 288.3L423 286.6L421.7 285.9L420.6 285.1L419.1 285.4L418 284.8L417.3 283.8L417.2 282.4L416 281.9L414.8 282.7L413.5 283.1L412.4 283.8L411.3 284.6L409.8 284.3L408.9 283.1L407.6 283.6L406.7 282.4L405.4 282.8L404.3 282.2L403.5 281.3L402.2 281.2L401.2 280.4L400.5 279.1L399.3 278.7L400.3 278.8L401.1 277.9L402.3 277.5L403.3 277.5L404.6 276.7L405.9 276.8L405 275.6L405.6 274.3L405 273.4L405.4 271.9L405.2 270.5L403.8 271L402.6 271.6L401.1 270.7L400 271.8L398.7 271.4L397.5 271.6L397.1 270.3L397.5 269.1L397.7 268L396.5 266.8L396.9 265.4L396.2 264.2L395.3 263.7L394 263.5L392.7 263.4L391.4 263.1L390.5 262L390.5 260.5L389.3 260L388.2 259.4L388.5 257.8L388.1 256.6L387 255.9L386.1 254.9L385.7 253.9L385.1 252.9L385 251.7L384.2 250.8L383.4 250L382.4 249.1L381.6 247.9L380.9 246.9L379.8 246.4L378.6 246.2L377.6 245.6L378.4 244.4L378.9 243.3L379.5 242.3L379.9 241.2L380.8 240.5L381.3 239.4L379.8 238.8L380 237.7L380.5 236.6L381.2 235.6L380.7 234.2L382.3 233.7L383.6 233.2L385 233L386.3 232.7L387.6 233.2L388.7 232.9L389.9 232.8L390.9 231.5L392.2 232.9L392.1 234.5L392.7 232.9L391.9 231.7L391.9 230.4L390.7 229.4L390.8 228L391.1 226.5L391.2 225.7L391.4 224.7L391.7 223.7L390.4 222.2L390 220.9L389.2 220.2L388.6 218.8L387.8 217.7L386.3 217.4L385 217.8L385 216.9L384.9 215.7L384.2 214.6L384.5 213.3L383.9 211.9L385.5 211L385.4 209.5L386.8 208.8L387 207.6L387.4 206.4L388 205.4L388.9 204.6L390 204.1L388.7 203.5L387.3 204L386.1 203.8L385.3 202.2L384.1 201.2L382.8 200.5L382 199.4L381.9 198L380.6 197.2L379.7 196.5L378.4 195.7L376.9 196L376.1 197.3L374.9 197.9L374.1 198.6L373.1 199.2L371.9 197.9L371.9 196.1L370.8 195.1L369.5 194.3L368.3 193.3L367.7 192.1L366.8 191L365.5 190.4L365.1 189L365.6 187.7L365.9 186.4L364.7 185.4L364.3 184.2L364.5 183L363.6 182.7L362.7 181.9L361.4 182.2L360.6 181L359.6 180.5L358.5 180.3L357.3 180.1L356.8 178.6L355.9 178L356.2 176.6L355.1 175.5L354.7 174.3L355.4 173.2L354.7 172.2L354 171.2L352.7 171.4L351.6 171.7L350.5 171.4L349.5 171L348.4 170.3L347.4 169.5L345.9 170.1L344.9 169.4L343.8 168.5L343.6 166.9L341.9 166.6L340.4 166.1L340.6 166.8L339.7 167.5L338.5 168.2L338 169.1L337.2 168.7L336 168.1L334.7 167.8L333.2 168.2L331.8 168L330.8 166.5L329.7 166.4L328.3 167L327.5 165.8L326.3 165.4L325.2 164.6L324.1 163.8L322.8 163.3L321.5 162.7L320.6 161.6L319.6 160.8L319 159.3L317.2 159.5L316.8 157.8L315.1 157.9L314 157.1L313 155.9L311.7 155.2L310.2 155.3L308.7 155.3L307.6 154.3L306.6 153.8L306.2 152.5L304.7 152.7L305.4 151.2L306.7 150.5L306.2 148.9L307.6 148.2L308.8 147.7L309.6 146.7L308.6 145.1L308.4 143.7L310.6 143.1L312.1 144.3L313.5 143.8L314.7 144.8L316.1 145.4L317.4 145.3L318.4 145.9L318.9 147.3L320.2 147.6L321.9 147.5L323.1 148.6L324 147.2L325 146.2L325.7 145L327 144.7L327.7 143.9L328.2 144.1L329.1 144.8L327.9 143.8L327.3 142.8L326.6 141.8L326.9 140.4L326.6 139.2L325.5 138.2L324.9 137.1L325.6 135.7L326 134.5L327 133.4L327.6 133L328.5 134L329.6 134L330.7 134.3L332.1 133.6L333.1 132.7L334.1 131.8L335.3 131.1L336.3 130.6L337.5 130.5L338 129.1L339.1 128.7L340.4 128.8L341.1 127.5L342 126.6L343 125.8L344.5 125.7L345.3 124.7L347.1 124.7L348.4 123.9L348.9 124.5L350.5 124.2L351.7 124.5L352.8 125.1L353.7 126.1L354.6 127L356 126.4L357.3 126L358.6 126.1L359.9 126.2L361 126.4L362.2 126.7L363.4 127L364.2 125.4L364 123.9L365.5 123.2L365.3 121.7L366.2 120.8L366.5 119.6L367.5 118.7L368.2 118L369.4 117.9L368.9 117.2L368.5 116.2L369.3 114.9L368.7 113.9L368.6 112.6L368.9 111.3L369.9 110.1L370.3 110.1L371.5 109.7L372.6 110.5L373.4 109.1L374.4 108.2L373.9 106.5L374.9 105.7L376.2 105.9L377.3 105.6L378.5 105.5L379.4 104L379.8 103.5L380.2 102.3L380.8 101.3L382.3 100.7L382.4 99.4L383.6 99.9L384.8 99.1L386 99.7L387.2 99L387.6 97.9L388.8 97.4L389.6 96.5L389.3 95L390.9 94.8L392 94.3L392.8 93.3L394 92.9L394.9 92.1L396 91.6L396.5 93.2L396 94.3L395.9 95.5L396.4 96.7L396.6 97.9L395.8 99.2L395 100.2L395.3 101.6L394.7 102.7L394.5 104L393.3 104.9L393.3 106.2L393.6 107.6L393 108.8L392.1 109.8L391.4 110.8L390.8 111.9L391 113.3L390.4 114.4L389.2 115.2L389 116.5L388.3 117.6L387.4 118.5L385.9 118.8L385.7 120.4L384.6 121.1L383.9 122.2L382.7 122.6L381.4 122.5L380.2 122.7L379.4 124L378.4 124.6L377.1 124.3L376.5 125.7L375.7 126.7L374 126.5L373.5 127.7L372.2 128.1L371.6 129.3L370.1 129L369 129.9L367.9 130.6L366.7 131.1L365.4 131.2L364.2 131.8L363 132.3L362.6 134L361.1 134.2L360.8 135.3L360 136.2L359.9 137.4L359.2 138.2L360 137.6L361.4 137.5L362 135.9L363.3 135.9L364.6 135.7L365.2 136.7L366.9 136.8L368.1 137.6L369.7 138.2L370.4 138.7L371.7 138.4L373 138.3L373.6 139.9L374.9 139.6L376.2 139.7L377.1 138.9L378.2 138.7L378.9 137.4L380.3 137.7L381.1 136.5L381.9 135.9L383 135.4L383.8 134.6L383.8 133.1L385.2 132.9L386.3 133L387.4 133L388.5 132.7L389.9 132.9L390.9 133.5L391.8 134.6L392.9 135.3L394.4 135.6L394.6 137.1L395.1 138.4L396.7 139L397.1 140.3L398.6 139.9L399.5 141L400.6 141.5L401.7 142.1L403 142.2L403.9 143.1L404.8 144L405.9 144.5L406.7 145.5L407.9 146L408.9 146.7L410.1 146.1L411.4 146.9L412.6 146.7L413.9 146.4L415.2 147.1L416.5 147.1L417.7 146.5L419 146.1L420.3 146.4L421.5 145.8L422.8 145.7L424.1 146L425.2 145.3L426.4 145.5L427.6 145.3L428.6 144.4L430 145L430.9 143.9L432.4 144.7L433.6 144.6L434.8 144L436 143.3L437.3 143.7L438.5 143.4L439 142.2L437.7 141.1L438.6 139.7L438.6 138.5L438.1 137.3L438.3 136.1L437.6 134.8L437.2 133.8L435.9 134L435.1 132.9L434 132.5L433 131.8L433.6 130.2L433.5 128.8L432.1 127.7L432.5 126.1L433.2 124.8L432.5 123.3L434.3 122.9L434.7 121.4L436.1 121.2L436.5 119.6L437.9 119.3L439.4 119L439.9 117.5L441.1 116.8L442.1 116.2L442.8 115.1L443.3 113.9L444.3 113.1L445.1 112.1L446.8 111.9L447.6 110.9L448.8 110.4L449.3 108.8L450.9 108.7L451.7 107.6L453.1 107.8L454.3 107.6L455.4 106.9L456.8 107.2L457.9 106.5L459 106.2L460.3 106.2L461.1 104.8L462.6 105.6L463.6 104.7L464.6 104L466.2 104.2L467.3 103L469 103.6M429.6 444L428.7 443.1L429 441.5L427.4 441L428.4 439.5L427.8 438L428.3 436.6L429.5 435.5L429.5 434.1L430.9 433.5L431.6 432.4L432.9 432.7L434 433L435.3 432.9L436.4 433L436.9 431.5L438 431L438.3 432.6L437.4 433.4L436.7 434.3L436.3 435.4L437.3 436.3L438.3 435.7L439.5 435.7L440.9 436.6L442.2 435.8M447.5 432.6L447.9 431.4L448.2 430.3L448.3 429L449.7 428.2L448.4 429.1L447.1 428.8L445.8 428.7L445.1 430.2L443.8 429.9L443.2 428.8L441.9 428.2L442.2 426.9L442.6 426L443.2 424.9L444.4 424.2L444.8 422.7L445.8 421.7L446.1 420.7L447.1 419.9L448.2 419.1L448.3 417.8L449.2 417.2L449.7 416L450.8 415.6L451 414.1L451.5 415.8L450.8 417L450.5 418.3L450.1 419.3L449.6 420.6L450.2 420.7L451.1 421.3L451.9 422L451.4 423.5L452.4 424.6L451.6 425.9L450.8 426.2L450.5 427.9L450.9 428.8L451.8 428.7L452.8 428M479.8 404.2L479.5 402.9L478.8 401.7L478.5 400.4L478 399.2L478.9 398L478.9 396.8L478.7 395.6L478.3 394.2L479.1 392.9L479.1 391.5L479.2 390.3L480.5 389.4L480.8 388.3L479.8 386.8L481.2 385.9L481.6 385.1L482.2 384.1L482.9 383.2L484.1 382.7L485.1 382.1L486.4 381.9L487.6 381.5L488.7 381.7L489.1 383.2L489.8 384.2L489.8 385L490.6 386L491.6 386.9L490.6 388.6L489.6 389.7L488.7 390.7L489.7 391.8L489.8 393M369.5 467L369.2 465.8L369.1 464.4L370.5 463.8L371.1 462.3L372.4 462.1L373.6 461.9L373.6 463.1L373.6 464L373.8 465L375.1 466M376 465.5L376.1 464.4L376.5 463.3L376.9 464.3L378.2 464.7M305.7 444.5L306.8 444.1L308 444.7L309.4 444.1L310.8 443.8L311.9 443.1L313 443.4L312.8 442.1L314.8 442L316.2 442.7L317.2 441.7L318.5 442L319.7 441.5L321 441.5L322.4 441.7L323.8 442.3L325.2 442L325.9 440.6L327.2 440.3L328.3 439.2L329.1 438.5L327.6 437.9L326.5 437.6L327.7 436.8L328.4 436L329.5 435.5L329.7 433.8L329.2 432.4L329.2 431.3L328.1 430.8L326.9 430.5L325.7 430.7L324.9 431.6L324.8 430.5L325.1 429.6L324.6 428.7L324 427.8L324.5 426.4L324 425.5L323.8 424.2L323 423.1L321.8 422.7L320.9 422.1L319.9 421.2L320.2 419.6L319.5 418.6L318.8 417.6L318.4 416.8L318.2 415.7L317.1 416L316 415.6L317.3 414.3L317.5 413L317.7 411.7L318.6 410.8L318.7 409.5L319.2 408.3L318.6 407.6L317.7 407.5L316.4 407.9L315.1 407L313.9 407.1L313.3 408.2L314 407.3L314.7 406.5L314.4 404.9L315.3 404L316.7 403.7L316.9 402.7L315.2 402.5L314 403.1L312.8 402.8L311.7 402.1L310.8 403.4L310.6 404.3L310.4 405.9L308.8 406.5L309.4 408L308.9 409.2L309.6 410.5L308.3 411.5L307.6 411.8L308 413.2L309.3 413.8L308.6 415.3L308.5 416.6L308.2 417.9L308.8 416.9L309.9 416.3L310.8 416.5L311.2 417.6L311.5 418.6L310.2 419.7L310.2 421.3L310.8 421L311.9 421.1L312.9 421.5L314 420.9L314.2 421.9L315.1 422.7L314.8 423.8L315.1 424.8L316.2 426.1L316 427.6L314.4 428.1L313.9 429L312.7 428.8L311.5 428.9L310.8 429.8L310.9 431.3L311.1 431.8L311.9 432.5L310.3 433.3L309.9 435.2L307.9 435.5L308.4 436.6L309.6 437.5L311.1 437.1L312.2 437.4L313.1 437.9L314.3 437.8L315.5 436.8L315.1 438.3L314 439L313.3 438.9L312.1 439.5L311 438.8L309.9 439.8L309.8 441.2L308.6 441.9L307.9 443L307 444L305.9 444.7M304.6 433.5L303.6 434.2L302.3 433.6L301.1 433.9L299.7 433.8L298.7 435L297.2 435.3L295.7 435L294.3 435.4L293.4 434.6L293.1 433.1L292.7 431.7L294.3 431.3L295 429.7L295.3 428.8L296.5 427.9L295.2 426.7L294.6 425.7L295.6 424.5L295.6 423.3L295.3 422L297 422.3L298.3 422.5L299.5 421.8L299.9 421.3L299.3 420.3L300.4 419.2L300.8 418L302.3 417.6L303.8 418.3L304.7 417.9L305.6 419L306.9 418.7L307.4 420.1L307.8 421.6L308.1 422.4L308.9 423.4L307.3 424.2L306.3 425L306.7 426.7L306.7 428.2L305.6 429.6L306.1 431.1L305.7 432.5L304.7 433.5M303.7 419.1L302.3 419.7L302.2 421.6L301.8 422.4L303 423.3L303.7 424.2L304.9 422.8L305.7 424.6M305 409.2L305.1 407.7L305.6 406.3L306.4 405.2L307.3 404.2L308.2 403.2L307.3 403.7L306.8 404.8L305.8 405.3L305.9 406.7L304.9 407.4L305.1 408.2L305.5 409.1M307 408L308.4 407.2L308.3 408.3L308.3 409.3L307.7 409.8L307.3 407.8M316 401.5L316.3 400.5L317.5 400.3L317.9 401.5L316 401.9M320.8 396.9L320.9 395.4L320.8 393.9L321.3 393.3L322.1 392.6L322 394L320.9 395.3L321.1 397M308.2 385.9L309.4 385.7L310 384.9L309.2 385.6L308.7 386.6L309.2 388L308.7 386.8L308.7 385.7M310.6 424.6L311.2 422.9L311.2 424.6L310.6 424.4M278.2 369.1L278.9 370.4L280.4 369L281.5 369L280.9 371.8L283.1 372L284.3 372.3L285 374.1L286.5 373.2L288.1 374.2L289.2 372.6L290.7 373.9L291.5 372.2L292.8 372.5L294.2 373L295.4 371.5L296.9 371.1L297.8 369.9L296.3 368.4L298.1 367L297.3 365.8L296.5 364.6L295.6 364.1L296.1 362.2L294.6 361.4L292.7 361.1L291.4 362L290.7 360.9L289 361.9L287.8 361.7L286.6 362.1L285.9 360.8L284.9 360.5L284.6 362.4L283.1 362.1L284.4 361.5L283.7 360.4L282.6 359.2L284.1 358.1L282.3 357.2L281.5 359L280.5 360.1L278.7 360.1L280.3 360.1L279.9 362.4L281.4 362.3L280.2 362.6L279.1 363.2L277.7 363L277.7 364.8L279.5 364.9L280.1 366L280.4 367.2L280.1 368.1L278.8 368.3L278.1 369.1M310.9 344.3L312 344.2L312.8 343.6L311.4 344.3L310.8 344.9M355.4 416.6L355.3 415.4L355.1 414.2L355 413.2L356.5 413.1L356.4 411.6L358.4 412.2L359 413.1L358.2 414.3L359.1 415.5L357.5 417L356.7 416.6L355.5 416.3M351.5 416.9L351.9 415.9L353.1 415.5L353.1 416.2L354.4 416.1L353.2 417.8L352.6 417.3L351.2 417.4M355.2 418.7L356.7 418.5L357.8 417.3L358 419.3L356.5 418.8L355.1 419.3M365.1 414.9L366.2 414.3L365.7 415.2L365.2 414.3M371.4 403.4L370.6 402L370.4 400.5L371.7 399.6L371.8 398.3L372.9 399.7L372.5 401L372 402.2L371.7 403.6M368.2 408.5L368.2 407.1L367.8 405.7L368.4 404.3L367.6 403L368.4 402.8L368.7 404.1L368.6 405.3L367.9 406.6L369.1 407.8L368.2 408.5M378.5 394.1L378.7 392.5L379.7 391.7L380.7 390.9L380.8 393.1L380.7 394.3L380 395.3L378.4 394.2M377.9 391.2L378.3 389.4L380.5 390.4L379.2 391.9L377.9 391M369.9 387.6L370.5 385.8L372 387.3L370 387.8M361.5 419.4L362.4 417.7L362.6 418.6L362.9 419.7L361.5 419.7M338.1 314.9L339.2 315.6L340.3 316.4L341 317.9L343.3 315.8L343.3 314.7L341.4 313.4L343.8 312.5L342.3 310.9L342.4 309.4L342.1 307.8L342.2 307.9L340.4 308.8L340.1 306.1L341.6 304.9L342.3 303.6L340.1 302.1L337.9 304.2L336.2 303.9L336.5 303.6L335 303.4L333.5 302.7L332.5 303.3L331.7 306.1L333.4 306.9L333.6 308.1L335.6 308.2L336.3 309.2L337.4 309.8L337 311.9L337.3 313.3L337.8 314.9M338.3 301.2L339.4 300.2L340.9 299.6L341.7 299.7L343.1 299.9L344.3 298L342.8 299.8L344.1 301L343.5 302.2L343 301.7L341.8 301.4L341.3 303.8L339.8 303.2L338.9 301.8L338.5 301.1M344.9 311.7L345.2 310.6L347.2 310.6L347.9 309.6L346.4 307.3L345.1 306.8L343.3 307.9L344.6 310L343.9 310.7L345.5 311.4M343.2 308.1L343.7 307.1L343 305.8L342.1 306.3L342.8 308.3M346.8 325.6L347.4 325L347.4 325.9L347 325.3M354 288.9L353.6 287.7L354 286.6L355.4 285.1L356.6 286.5L356.9 287.7L356.2 288.1L356.1 289.4L354 289.2M358.5 285.9L358.1 284.8L358.6 283.4L356.7 282.7L358.7 280.9L359.7 282.6L361 282.4L361.5 283.5L360.9 284.6L359.1 284.6L358.5 286M359.5 280.3L359.3 278.9L359 277.5L360.3 276.4L361.9 277.3L361.5 277.8L361.4 279.1L360.6 279.6L359.7 280.5M356.1 282.3L356.1 281.1L354.6 280.2L354.7 279L356.2 278.3L357.2 279.4L357.1 280.4L356.9 281.8L356.4 283M358.5 287.9L358 286.4L359.2 287.8L358.7 288.4M389.2 310.8L388.3 309.9L388.2 308.6L388.5 307.1L385.8 307.1L385.1 305.8L383.8 305L383.3 303.7L382.4 302.8L382.1 301.5L382.5 299.9L382.9 297.9L381.4 297.5L379.8 297.1L379.4 295.7L379.8 294.2L378.2 293.4L377.1 292L379.4 290.2L378.4 288.9L376.7 287.8L376.4 286.6L376.3 285.3L379 283.8L376.6 282.5L378.6 281.8L380 280.9L380.8 279.8L381 282.2L381.3 283.5L380.4 285.2L382.9 285.6L383 286.8L383.3 287.9L384.1 288.9L382.4 290.5L382.6 292L384.2 292.7L386 293.4L384.7 295.4L385.2 296.6L386.1 297.6L387.7 298.2L387.2 300.1L388.5 300.5L389.4 301.4L390.3 302.1L391.8 301.7L392.5 302.9L393.1 304.3L394.4 304.5L396 304.3L396.4 306.3L397.5 307.1L398.6 308.1L397.6 308.9L396.7 309.8L395.4 311.3L393.2 309.6L392 310L390.6 310.5L389 309.2M401.6 306.6L400.8 305.4L400.5 304L401.6 303.2L402.8 303.4L403.7 304.3L404.1 305.2L402.7 306.2L401.9 307M395.1 322.3L395.1 320.9L394 320L395.6 319.8L397 320L397.5 320.7L397.2 321.9L396.2 322L395 321.7M394.9 284.8L394.5 283.9L394.5 282.9L396.4 283.2L395.8 284.2L394.9 284.8M373.4 254.8L373.9 253.9L373 252.6L373.6 251.8L372 252L372.3 249.8L370.3 251.9L368.7 250.5L369.2 252.7L366.5 252.8L368 255.2L370.7 254.7L371.1 255.7L372 254.2L373.4 254.8M375.9 250L375.7 248.3L377.1 247.7L375.9 247.7L376.2 245.8L374.9 245.5L374.5 247L373.6 247.6L371.8 246.7L373.4 248.1L372.5 249.8L374.5 250.1L375.9 250M367.6 256.8L366.2 256.4L364.7 256.5L363.6 255.4L364.1 254.1L365.4 253.3L366.3 254.7L368.3 253.8L368.1 255.7L367.3 256.8M368.2 211L367 211.6L365.7 211.2L364.4 211.9L364.4 209.8L362.8 209.3L362.8 207.9L362.9 206.4L361.4 205.8L363.3 205.7L364.4 204.5L365.1 204.8L366.1 205.6L367.2 206.1L368.5 206.3L368.9 208L369.2 208.5L367.7 209.5L367.6 210.8M372.3 201.8L372 200.5L370.3 200.4L370.2 199L369.2 198.3L368.2 199.2L368.5 200.5L368.5 201.7L370 202L369.8 203.6L371.2 202.4L372 201.5M360.2 203.7L359.3 202.6L358.6 201.3L357.2 200.8L358.3 200.9L359.5 201.1L359.7 201.5L359.6 202.7L359.9 203.7M366.4 207L365.1 206.7L364.3 208.1L363 207.8L361.9 208.2L362.3 206.7L361.2 205.6L361.1 204.3L362.5 204.5L363.9 204.3L364.3 205.8L365.1 206.6L366.1 207.3M326.4 173.8L325.1 174.2L323.9 173L322.5 173.9L321.2 173.1L320.5 174.2L320.2 175.2L322.1 175.3L323.5 175.7L324.6 176L325.7 176.2L326.2 174.8L326.5 173.8M452 95.5L450.8 96.1L450.4 97.4L449.8 98.4L449.1 99.3L448.2 100.1L447.3 100.9L447.3 102.3L446.5 103.5L445.4 104.3L444.8 105.6L443.3 106L442 106.6L442.1 108.3L440.8 108.8L440.6 110.2L439.1 110.6L438.7 111.9L438.3 113.1L438 114.4L437.2 115.4L435.7 116L435.9 117.6L434.7 118.4L434.1 119.4L433.5 120.6L432.5 121.4L432.4 122.9L431.1 123.2L431 124.6L430.1 125.3L428.8 125.7L428.1 126.8L427.1 127.5L425.8 127.6L424.6 128L424.4 126.6L425.7 125.5L426 124.2L425.9 122.7L427.1 121.9L427 120.4L428.2 119.6L429.1 118.8L429.7 117.6L430.5 116.6L431.7 116.1L431.4 114.5L432.2 113.4L432.6 112.2L432.5 110.8L434 110L433.3 108.5L434.3 107.5L434.2 106.2L433.8 104.9L434.4 103.8L435 102.7L435.7 103.6L436 104.9L437.6 105.1L437.5 106.7L438.2 107.6L439.3 106L440.6 105.5L441.2 104.1L442.7 103.8L443.9 103L444 101.6L445.1 100.8L445 99.4L444.7 98.4L445.2 97.3L445.5 96.2L445.6 95L446.1 93.9L447.2 93.2L447.2 94.5L448.2 95.6L448.5 97L449.4 96.7L450.8 96.4L451.8 95.1M457 92.8L456 94L454.4 94L453.8 93L454.4 91.9L455 90.7M434 139.2L432.8 139L431.5 139.4L432.3 138.3L433.2 137.7L433.9 137.9L434.1 139.2M401.3 89.2L400.7 90.2L399.2 90.2L398.3 90.9L398.3 92.6L399 91.5L399.6 90.4L400.4 89.4L401.2 88.6M406 86.9L405 88L403.6 88.6L404 87.6L405.2 87.2L406 86.9M408.9 85.5L407.3 86.4L408.3 85.3L408.7 85.9M413.2 83.7L411.6 83.6M415.4 82.5L413.8 83.4M420.4 80.4L419.4 80.7L418.3 80.7L417.3 81.2L418.9 80.5L420.5 79.8M430.7 79.1L429.3 79.3L428 79.6L426.6 79L425.3 79.7L426.6 78.9L427.9 78.1L429.3 78.4L430.6 79.3M440.1 80.6L438.8 81.2L437.5 80.6L436.2 80.8L435 80.5L435.9 79.4L437.6 79.2M365.4 121L364.8 122.2L363.3 122.2L362.2 122.8L362.7 122.1L363.7 121L364.2 120.9L365.3 121.2M363.7 103.9L363.2 102.8L362.7 101.7L363.9 101.1L363.1 102.4L364.3 103.9M306.7 139.2L305.7 139.6L305.2 140.9L304.3 141.4L302.9 140.5L301.7 140.4L300.8 139.3L301.7 139.2L302.5 138.4L303.6 137.9L305 138.5L305.8 138.7L306.5 139.6M294.5 126L292.9 126.4L292 127.8L291.1 126.9L290 126.4L291.7 125.8L292.1 124.2L293.3 125.4L294.4 126.1M307.5 125.2L306 125.2L306.8 124.5L308 124.7M299 110.4L298.4 111.1L298.6 110L298.7 110.9M281.6 101.2L281.2 102.2L280.3 102.9L279.6 103.7L278.6 103.6L277.5 103.3L277.9 101.7L279.2 101.1L280.3 100.1L281.9 100.7M284.1 98.2L282.6 98.4L283.4 97.9L284.3 97.8M287.4 93.1L287 94.3L286.6 95.4L286.7 96.8L284.3 97L284.1 95.9L285 94.9L285.6 93.5L287.5 93.4M291.6 89.7L291.2 90.8L290 91.4L290.3 92.8L289.4 93.4L288.6 94L288.4 92.3L289.6 91.1L291.1 90.4L291.6 89.7M294.8 89.1L293.8 89.3L293.3 90.4L293.5 88.7L294.7 89.6M297.1 87.8L296 87.8L295.6 89.1L296.6 87.7L297 88.1M298.5 87L297.5 87.9L297.6 86.5L298.7 86.6M302.3 85.5L301.5 86.2L300.5 86.2L301.5 85.3L302 86.1M305.8 84.1L304.7 84.3L303.6 84.6L302.5 84.7L303.8 83.7L304.8 84.4L305.9 83.6M309.4 83.3L309 84.5L307.8 85.2L305.9 85.1L307.3 84.1L308.1 83.9L309.5 83.6M315.2 81.4L314.6 82.1L313.6 82.6L312.3 83.1L313.2 81.1L314.3 80.7L315.2 81.6M317.1 81.3L315.4 82.1L316.4 81.2L317.2 80.6M318.9 81.2L318 82.8L317.2 81.2L318.9 80.7M328.9 80.9L327.9 80.1L326.3 80.5L325.6 79L326.4 79L327.3 78.5L328.6 79.7L328.9 80.9M326 82.6L324.8 83.1L325.2 81.8L325.8 83M333.2 82.1L332.3 82.9L331.5 83.9L332.5 82L333.1 82.3M337 85.1L336 85.6L336.8 84.7L336.4 85.4M344.3 85.8L342.8 86.5L343 84.8L344.1 86M346.9 88.6L346.2 89.4L345.2 89.6L343.7 88.2L345 87.2L345.8 88.7L346.7 89M148 139.8L149.1 140.5L150.1 141.5L151.2 142.3L152.2 143.2L153.1 144.2L154.3 145L155.6 145.3L156.8 145.9L158.1 146.1L159.4 146.4L160.4 147.3L161.5 148L162.9 147.9L164.1 148.4L163.4 149.6L161.6 149.7L160.7 150.8L159.8 151.9L159.4 153.4L157.8 152.4L156.6 151.9L155.1 151.9L156.3 152.8L157 153.7L158 154.3L159.1 154.8L160.1 155.3L161.6 155.8L163.1 155.7L164.1 154.6L165.1 154.8L166.4 154.1L168 154.8L169.2 154.1L170.4 153.1L171.7 152.4L173 151.8L174.3 151.9L175.3 151.3L176.2 150.3L177.6 150.7L178.5 149.6L179.7 148.9L181.2 149.9L182.7 150L183.5 150.5L184.5 151.1L185.7 151.4L186.8 150.5L188 150.6L189.2 151.4L190.2 152.2L191.6 151.8L192.5 151.2L193.9 152.2L194.9 152.1L196 152.4L197.2 152.2L198.4 152.1L199.5 152.7L200.6 153.1L201.4 154L202.4 153.8L203.6 153.9L204.5 153.8L205.6 153L206.9 153.3L207.4 154.8L209.3 153.9L210.6 154.3L211.6 155.3L212.7 155.4L213.8 156.2L214.8 156.1L215.7 156.7L217 157.1L218.3 157.6L220 156.9L221 155.9L221.9 156.8L222.9 157.8L224.6 157.8L225.2 159.1L224.4 158.1L224 156.8L222.6 156.3L223.9 155L223.7 153.4L225.1 153.4L226.2 153.4L227.2 153L228.3 153.6L229.5 153.7L230.6 154L231.8 153.3L232.9 154.1L234.1 153.7L235.4 153.5L236.2 152.2L237.5 152.1L238.9 152L239.8 151.1L240.5 150L241.8 149.8L243 149.3L244 148.8L245.1 147.7L246.5 147.6L247.9 147.8L249.2 147.3L250.7 148.5L252 148.4L253.1 147.4L253.8 146.4L253.2 145.3L253 144.2L252.2 143.3L252.9 141.9L252.7 140.5L254 139.6L254.1 138L254.9 137L255.9 136.5L256.7 135.7L258.1 135.6L258.7 136L258.7 137.2L259.1 138.3L259.4 139.4L260.4 140.3L259 141.7L259.2 143.2L258.4 144.4L258 146.3L258.2 145L259.1 144.2L260 143.3L261.3 143L260.8 141.3L260.8 140.1L262.3 139.1L261.4 137.8L262.5 136.8L262.2 135.6L262.6 134.5L262.1 133.3L262.3 132.2L261.7 131.1L260.5 130.6L259.7 129.8L259.7 128.4L260.9 127.5L260.9 126.1L262.2 125.2L261.8 123.6L263.1 122.6L263.4 121.3L264 120L264.7 119L265.1 117.9L264.9 116.4L265.7 115.5L266.7 114.6L266.7 113.3L267.2 112L268.2 111.3L269.6 110.8L269.6 109.1L271.4 109L271.5 107.4L272.9 107.3L273.5 106.2L274.3 105.2L275.9 105.3L277 104.7L277.6 103.2L277.7 104.6L277.6 105.6L276.2 106.4L275.2 107.3L274.4 108.5L274.3 110.1L273.4 111.1L272.5 112.1L271.5 113L271.7 114.6L270.5 115.5L270.5 117L269.9 118.2L269 119.2L269.6 120.5L269.1 121.8L269.5 123L269.4 124.3L269.3 125.6L270 125.8L271.2 125.6L272.3 125.8L273.7 125L275.2 125L276.4 124L277.7 124L278.8 123.3L280 122.8L280.3 123.8L280.5 125.1L280.8 126.4L281.5 127.6L282.7 127.6L283.9 127.4L285.2 127.8L286.4 127.3L287 128.1L288.2 128.5L289 129.3L290 129.9L291.4 130.1L291.3 131.5L292.4 132.1L293.2 133L292.4 134.4L292.5 135.5L292.1 136.6L292 137.7L291.3 138.8L291.2 139.8L291.7 141L290.7 142.3L289.3 142.6L288.3 143.4L286.7 143.5L286.1 145L286.2 145.8L285.7 147.1L286.5 148.2L286.9 149.4L287.6 148.7L288.9 148.4L290.3 148.2L291.6 148.5L292.8 148L294 147.8L294.9 146.7L296.2 147.1L297.3 147.8L298.6 147.8L299.3 148.9L299.9 150.2L301.1 150.8L299.9 151.3L300.1 153L299.2 154L298.1 154.7L296.7 154.3L295.3 154.3L293.9 154.9L292.8 155.6L291.5 155.9L290.3 156.5L291.3 157.9L291.7 158.9L292.4 159.8L293.1 159.9L294.1 159.9L295.2 160.5L296.3 160.6L297 161.6L298.6 161.6L299.5 162.4L300.1 163.7L301.1 164.4L300.8 165L300.3 166.1L299.4 166.9L298.5 167.9L298 169.3L297.6 170.8L297.1 171.8L297 173.2L296.5 174.4L296.1 175.6L294.6 176L293.8 177L293.5 178.5L292.8 179.3L291.7 179.9L291.6 181.2L290.7 182L289.3 181.3L287.8 182L286.4 181.7L285.2 181.7L284 181.8L282.7 181.4L281.5 181.7L280.5 182.7L279.2 182.5L277.9 182.6L277 183.4L275.8 183.7L275 185.1L273.7 185L272.6 185.5L271.2 185.6L270 186.2L268.9 187L267.4 186.8L266.4 187.8L265.2 187.8L264 187.6L263 188.6L261.9 188.9L260.7 189.7L259.3 190L258.1 190.9L258.5 191.8L258.1 193.3L258 194.3L257.4 195.2L256.5 195.9L255.5 197.1L256.2 198.7L256 200L255.7 201.4L255.4 202.5L254.6 203.6L255.2 204.9L253.8 205.1L252.8 205.7L251.6 204.9L250.5 205.7L249.4 205.8L248.3 205.9L249.3 206.7L250.1 207.7L248.8 208.8L247.8 209.6L247 210.4L246.7 211.6L245.2 212.2L243.8 212.4L242.6 213L241.7 214.2L240.3 214.5L239.2 215.1L238.1 215.6L236.9 216.2L235.7 216.5L235 217.9L234.1 218.4L232.9 218.4L232.1 219.3L231.8 220.2L231.4 221.4L230.4 222.4L231 223.9L230.8 225.1L230.7 225.9L231.3 226.8L231.4 228L232.2 228.8L232.5 230.1L232.3 231.4L232.4 232.7L230.7 232.4L229.7 233L228.9 234.1L227.9 234.7L227.4 235.2L226.4 236L226.9 237.4L225.6 238.1L225.1 239.4L225 240.7L225.2 242.1L224.9 243.4L226.2 243.9L227.1 244.9L228.4 245.5L227.2 246.6L226.9 248.2L227.6 248.5L228.6 249.2L230 248.9L230.8 249.9L231.7 250.8L233.1 249.5L234.3 250.2L235.5 249.7L236.7 250.1L237.9 249.7L239.1 249.9L240.3 250.5L241.1 251.1L242.2 251.7L242.9 253L241.9 252.6L241 253.8L239.8 254.2L238.4 254.2L237.5 255.5L236.1 255L235 255.9L233.7 255.8L232.6 256.6L231.5 256.9L232 258.5L230.5 259.1L229.2 258.4L228.1 259L227 259.6L225.8 259.8L224.9 260.7L224.2 261.8L223.1 262.4L224.5 263.1L225.9 263.3L226.8 264.7L228.5 264L229.3 265.6L230.7 265.4L232 265.8L233.1 266.5L233.5 267.7L233.1 269.1L233.1 270.5L233.8 271.9L232.1 271.9L231 272.2L230.2 273.3L229.1 273.4L228.2 274.2L226.8 274L225.7 273.2L224.5 273.5L223.2 273.9L222 274L220.9 272.6L219.7 273.5L218.5 273.4L217.3 272.1L217.7 270.5L216.6 269.5L215.9 268.2L215.2 266.8L214.3 266.2L213.2 266.4L212 267.1L210.9 267.5L209.7 266.7L208.5 266.9L208.4 265.7L207.7 264.4L207.3 263L206.5 262.1L206.4 260.9L205.3 260.2L205.4 258.9L204.2 258L203 257.5L202 256.6L201.7 255.1L199.9 255.2L199.1 254.5L198.5 253.3L197.6 252.4L196 252.8L195.5 251.3L194.6 250.6L192.9 251.1L192.2 249.5L190.6 249.8L189.9 248.3L188.3 248.5L187.5 247.3L186.3 246.9L185 247.6L183.9 247.2L182.8 247L181.7 246.6L181.3 248.6L180.2 248.7L179.1 249.3L178.1 249.9L177 250.6L175.7 250.6L174.9 251.9L173.5 251.7L173.8 253L173 254.2L173.1 255.4L173.4 256.7L172.8 257.9L172.6 259.1L172.2 260.4L170.8 261L170.7 262.4L169.7 263.2L169.2 264.3L168.7 265.4L168.6 266.8L168 267.9L167.1 268.7L166.1 269.6L166.2 271.1L165.9 272.3L165.1 273.3L164.9 274.3L165 275.6L164.2 276.9L164.7 278.1L165.2 279.4L164.6 280.7L163.2 280.7L162 281L160.8 281.9L159.4 281.5L158.2 282.1L157 282.6L155.7 282.9L154.5 283.6L153.2 283.4L153 284.9L152.1 285.7L151 286.2L150.2 287.1L148.5 286.9L147.9 288.3L147 289.3L147.3 289.9L147 291.3L148 292.2L148.9 293.1L149.7 292.9L150.9 292.4L152.3 293.2L153.5 292.8L154.5 291.5L155.8 291.5L157 291.5L158.3 291.5L159.6 291.8L160.8 291.2L161.9 290.4L163.2 290.4L164.3 291L165.6 291.4L166.7 292.1L168.1 292.1L168.9 293.5L170.2 293.6L171.4 294.2L172.8 294.3L173.7 294L175.1 293.7L175.7 292.4L177 292L178.1 291.3L178.9 290.1L180.4 290.1L181.3 289.1L182.5 288.5L183.4 287.6L184.7 288.6L186.2 287.8L187.4 288.9L188.7 289.2L190.1 288.9L191.2 288.1L192.7 288.3L193.8 287.6L195.1 287.7L196.3 287L197.3 286L198.7 286.2L200 286.2L201 285.1L201.6 286.5L201.7 287.8L201.2 289.3L202.3 290.4L202.4 291.8L201.5 293L201.3 294.3L201.4 295.6L200.5 296.7L200.5 298L199.9 299.2L199.9 300.6L200.6 302L200.1 303.2L200.3 304.5L198.8 305.3L197.7 306L196.7 306.6L195.6 307.2L194.5 307.5L193.4 308L192.3 308.6L191.2 309.2L190.3 309.9L189.6 311L189.5 312.3L189.7 313.7L190.6 314.2L191 315.8L192.7 316.1L193.8 317L194.8 317L196.1 317.3L197.4 317.3L198.6 316.6L199.9 316.4L201.2 316.7L201.1 318.3L200.3 319.3L198.7 319.6L198.6 321L197.6 321.8L196.8 322.7L195.7 323.4L195.1 324.5L195.1 326.1L193.8 326.8L193.4 328.1L192.5 329.1L191.5 330L190 330.4L189.8 332L188.7 332.8L187.8 333.6L187.4 334.8L186.3 335.5L186.7 337.2L185.3 337.7L184.7 338.8L184.2 339.8L184.5 341.1L184.2 342.4L184.4 343.6L185.4 344.7L185.5 346L185.1 347.4L184 348.3L183.7 349.5L183.5 350.7L182.1 351.4L181.8 352.7L181.2 353.7L180.9 355.2L179.6 356L179.1 357.3L178.2 358.4L177.3 357.8L175.9 358.2L174.7 357.7L173.5 357.4L172.5 356.4L171.6 355.3L170.1 355.6L169 355L167.8 354.7L166.8 353.7L166 352.4L164.5 352.8L163.4 352.2L162.8 350.8L162.8 349.3L162.2 348.2L160.7 347.5L160.4 346.2L160.3 344.8L159.5 343.8L158.2 342.9L158.4 341.4L157.8 340.3L156.7 339.3L155.7 338.3L155.6 336.8L155.2 335.5L155.1 334.1L154.2 333L152.9 332.5L152 331.4L150.8 331L149.1 331.5L148.5 330L147.2 329.6L145.9 329.3L144.8 328.4L143.3 328.7L142 328.4L141 327.3L139.8 326.7L138.2 327.3L137.3 326L135.8 326.7L134.9 325.2L133.5 325.8L132.3 325.3L133.4 326L134.3 327L135.5 327.7L136.9 327.8L138 328.8L139.5 328.5L140.5 329.8L141.9 329.7L142.7 330.6L143.2 332L144.7 331.8L145.5 332.6L146.6 333.2L147.3 334.3L147.6 335.7L148.7 336.6L150.3 337.1L151.1 338.2L151.8 339.4L150.7 340.8L150.3 342.3L149.5 343.4L147.8 343.1L146.9 341.9L145.5 341.6L144.5 340.6L143 341.7L142.5 342.8L141.8 343.8L142.1 345.4L140.4 345.9L139.8 347.4L138.5 348.1L137.7 349L138.1 350.1L138.9 351.2L138.4 352.4L138.5 353.6L139.7 354.8L140.2 356L140.5 357.4L140.5 358.9L140.9 360.1L142.3 360.3L142.9 361.4L143.6 362.3L145 362.5L145.9 361.7L146.4 360.3L148.1 360L148.8 358.8L147.2 358.4L146.3 359.4L145 359.5L144.1 360.3L143 361L141.6 360.5L140.7 361.4L139.6 362.1L138.8 360.4L137.5 360L136.4 359.4L135.8 358.2L134.6 357.8L134.1 356.5L133.2 355.7L132.4 354.7M127.6 345.8L128.5 346.8L129.8 346.7L130.9 347.3L132.2 347.5L133.4 347.7L134.7 348.5L136.2 348.8L134.9 349.4L133.9 349L132.8 348.1L132.7 346.8L131.5 346.2L131.4 344.9L130.3 344.1L130 342.7L129 341.9L128.2 341.3M161.7 151.9L162.6 151.3L162.4 149.4L163.6 149.1L164.8 148.7L165.5 146.9L167.1 148.1L168.7 149.2L169.1 147.1L170.7 148.3L172 148.5L172.8 145.1L174.1 144.8L175.6 146.1L177.1 147.8L178.1 145.8L179.5 146.9L180.7 146.3L181.7 147.4L179.9 148.3L178.4 148.4L177.9 150.6L176.7 151.2L174.7 150.1L174 151.8L172.3 151L171.7 152.8L170.4 153.8L169.1 152.9L167.7 151.6L166.7 153.3L165.4 152.4L164.3 151.4L162.8 152.9L161.9 150.7M191.2 143.1L192.3 144L193.6 143.4L194.7 145L196.1 143.8L197.1 145.1L198.6 142.8L199.6 144.4L201.1 143.9L202.3 144.1L203.3 144.7L202.2 147.2L201.4 148.2L199.7 148.2L199 147.3L197.4 147.1L197.4 145.2L195.8 145.4L195 143.8L193.4 144.4L192 144.5L190.9 144M208.2 148.7L209.3 149.4L208.7 151.5L210.8 151.5L212 152.1L209.4 152.2L208 152.9L207.7 152.4L205.4 153.5L205.1 151.7L204 151.3L204.1 149.2L204.8 148L206.9 147.7L208.2 148.7M214.9 150.2L216.6 149.9L217 152.3L218.8 151.5L219.4 153.5L220.7 153.9L220.3 154.2L219.8 155.5L218.1 156.4L217.8 153.3L216.5 153L215.1 153.3L213.6 152.9L214 151.3L213.9 150L215 151.3M220 154.1L220.9 153.5L222.3 154L223.1 152.7L221.9 153.5L221.1 152.4L220.2 151.6L219.1 151.3L220.3 152.6L220 154.1M215.9 154.8L217 155.1L218.3 155.2L219.4 155.6L220.4 156.1L218.4 156.5L217.1 156.8L216 155.9L215.1 154.8L215.9 154.9M258.8 122.1L258.3 123.7L256.7 123.7L255.1 123.6L254.7 125.4L254.5 126.5L255.2 127.8L255.3 129.5L256.9 130.1L256.7 128.3L258.3 127.8L258 126.1L260.9 126L261.6 124.6L259.2 123.4L258.4 122.4M257.7 128.6L257.2 129.8L257.5 131.2L256.1 129.6L257.1 129.9L257.7 128.6M153.3 360.6L154.6 359.4L156 360.9L157.3 359.5L158.6 361.2L160 360.6L161.2 359.6L162.6 360L163.9 359.5L164.9 357.7L166.3 359.1L167.6 359.2L168.7 358.7L170.1 359.7L171.2 359.3L172.5 358.3L173.8 357.9L175.1 357.6L176.2 359.9L175.7 360.8L174.9 360.6L173.6 361.2L172.2 361.2L171 362.2L169.5 361.4L170 363.3L167.9 364.1L168.9 365.3L169.7 366.1L171.5 365.7L172.3 367.8L171.4 369.2L170.2 370.5L170.2 371.7L168.9 372.5L169.1 374.1L168.9 375.4L167 376.3L168.4 378.2L167.6 379.1L165.8 379.4L164.8 379.5L163.8 380.5L162.4 380.4L161.4 381.1L161.4 379.4L161.7 377.7L162 378L162.2 376.8L162.5 375.6L162 373.8L160.1 374.7L159.2 373.6L158.3 372.4L158.9 372.6L158.6 371.2L160.1 370.6L159 369L159.1 367.3L157.6 366.8L156.6 365.8L157.2 364L155.3 363.7L154.3 362.9L155.1 360.9L154.5 359.8M155.4 339.6L154.9 340.9L155.8 342L155.7 343.3L155.9 344.5L156.8 345.6L157.2 346.8L156.7 348.1L156.2 349.7L155.3 348.4L155.6 347.1L155.3 346L153.9 345.2L153.5 344.1L154 342.7L155.2 341.9L154.4 340.5L155 339.5M140.7 347L140.5 348.4L141 349.5L141.5 350.7L142.5 351.7L142.7 352.9L142.6 354.2L142.8 355.5L141.7 355.7L140.4 355.2L140.7 353.2L139.3 352.2L139.6 350.7L138.8 349.5L140 348.3L141.1 347.3M212.1 265L211.9 266.6L213.8 266.6L213.4 268.3L213.6 269.5L215.7 269.9L214.7 271.7L214.8 272.7L214.1 273.9L212.8 274.2L211 274.1L211.2 276.3L209.2 275.9L208.6 277.5L207.8 278.8L206.2 279L205.4 277.6L205.3 276.2L206.1 274.5L205.5 273.2L203.1 273.2L204.5 271.1L203.3 270.7L204.1 269.4L203.4 268.5L203.4 267.6L203.6 266L206.1 266.1L205.8 267.3L207.5 266.9L209.5 266.1L210.6 267.2L211.5 266.4L212.8 265.9M201.6 274.2L201.6 275.3L201.6 276.4L203.2 277.1L201.8 276.2L200.7 276L199.2 276.6L200.8 275.4L201.9 274.5M199.7 280.6L199.3 282.4L198 281.8L197.2 281L198.4 281.3L199.7 280.6M172.3 285.9L173.5 286.9L173.4 288.6L172.6 287.6L171.3 288L170.1 288L171 286.4L171.9 285.4M154.4 283L155 284L155.1 285.3L155.4 286.5L154.3 286.4L153.8 285.5L154.7 284.4L154.5 283M225.1 281.1L225.6 282.5L227 282.9L227.4 284.3L226.6 284.4L225.5 284L224.4 284.3L224.8 282.5L224.6 280.9M208 313.3L209.7 311.7L205.8 311L209.9 308.9L207 308L206.3 306.8L207.3 305.3L204.9 303.8L205.3 302.6L206.9 301.6L206 300.1L208.9 299.4L208.2 298L208.7 296.9L208.9 295.7L209.3 294.5L212.4 295.5L214 294.1L211 292.2L214 291.7L211.4 289.8L213.3 288.3L209.9 288.4L211.2 286.4L209.8 285.6L213 285L213 283.3L213.2 280.5L214.4 280.7L215.2 283.1L217.2 284L217.5 285.4L213.8 288L214.3 289.3L220 288.9L218.2 286.8L219.7 290.3L221 292.2L222.2 291.7L223.1 290.6L224.4 291L225.7 289.6L227 289.7L229.4 290.2L226.5 286.5L229.9 287.7L230.8 287L228.5 284.2L232.3 284.9L229.7 282.1L234.5 283.4L234 281.6L232.9 279.6L234.2 278.8L236.9 278.6L234.1 275.4L232.9 274.6L235.6 272.9L236.6 271.4L232.2 270.4L235.8 269.1L233.6 267.8L235.8 267.6L235.5 266L238.4 267L236.7 263.9L239 262.6L238.9 261.3L236.3 258.9L239.5 262.7L240 261.2L240.9 257.9L241.8 260.6L243.3 259L244.8 257.8L245.3 257.6L247 259.2L248.9 262L251.3 258.7L250.5 262.1L248.9 263.2L252.1 263.6L250.2 265.1L250.1 264.9L248.5 264.7L250.1 267.1L248.4 269.8L252 269L253.5 270.7L250.7 273.3L249.4 272.6L248.2 273.6L246.5 268.7L248.4 273.5L243.9 273.7L246 276.5L248.2 275.8L250.2 278.2L248.8 279.2L244.2 279L246.3 281.4L243.7 281.4L246.3 284.7L246.5 285.6L244.3 286.1L244 287.3L244.6 288.5L241.8 289.2L242 290.4L241.5 291.1L241.9 292.8L240.8 293.3L240.4 294.8L238.4 294.3L238.1 295.9L236.2 295.5L235.4 293.5L234.4 297.4L233.7 297.5L236.5 298.9L232.1 299.7L233.8 301L233.3 302.1L233.2 303.2L235.4 305.1L230.7 305L235.4 307.6L233.6 308.7L231.5 308.8L228.7 308.5L229.3 308.8L227.6 307.9L226.8 311.3L225.5 310.2L224.2 310L223.1 312.3L220.9 308.8L222.7 307.9L221.6 306.3L221.5 304.9L222.8 304L226.9 303.2L225.5 301.7L226.4 300.3L223.8 301L223.6 302.3L220.9 301.9L222.9 304.8L222.7 306L221.9 306.9L222.1 308.8L221.6 310L219.6 310.1L217.1 309.9L218.5 312.5L215.7 311L213.9 311.4L213.7 308.3L211.5 308.6L212.8 307.4L214.6 306.3L214.5 305.1L215.6 304L215.2 306.4L212.2 306.2L213.1 308.1L208.8 307.3L211.6 310.1L208.2 309.4L209.1 311.3L207.2 311.5L206.4 312.4M251.8 271.2L251.9 272.3L251.4 273.4L251.6 274.5L250.8 274.9L249.6 275.3L249.2 276.5L248.1 276.3L247.5 275L248.5 273.1L248.8 271.6L250.7 272.8L251.9 271.9M243.3 217.9L242.6 220.2L240.5 216.9L239.5 217.8L239.4 221.2L237.5 219.4L236.9 221.2L234.8 218.9L233.5 221.1L235.3 223.2L233.6 223.9L233.6 225.2L234 226.7L232.9 227.7L233.2 228.8L233 230.1L230.9 231.5L232 232.7L235.2 233.7L233.2 235.2L230.1 235L230.4 236.5L230.5 237.9L229.8 238.9L231 240.4L233 238.8L233.6 240.2L234.4 239.3L235.5 238.6L237.4 240.4L237.9 237.3L238.5 237.4L241 238.4L242.5 238.3L242.8 236.6L242.8 239.3L243.9 239.7L246.2 237.3L247.1 240.4L247.9 236.9L249.3 238.1L250.3 236.1L248.7 236.9L251.1 235.5L251.8 234.2L250.2 232.2L251.8 232.3L252.8 231.8L252.9 230.6L251 229.3L254 229.7L253.9 226.8L256.6 229.7L256.5 226.8L256.5 225.7L257.7 224.7L254.7 223.5L254.1 223.5L254.7 221.4L254.9 219.7L254.2 218.7L253 218.2L250.5 219.2L249.6 220.7L247.8 221.4L248.3 223.1L249.9 221.4L248.9 220.5L247.4 219.9L247.5 218.6L245.2 218.3L245.4 218.8L244.3 216.6L243.2 216.9M258.1 212L256.9 213L255.5 213.6L254 211.9L252.8 213.5L252 213.8L253.2 215.4L250.4 216.2L252 217.8L253.7 218.1L254.9 218.7L253.3 221L253.8 222.1L255.9 222.4L257.1 223.3L255.1 225.6L255.8 226.7L257.7 227.3L258.4 225.7L260.2 227.4L261.5 227.7L261.5 225L262.5 224.4L264.4 224.8L265 223.8L266.1 222.4L265.6 220.9L264.8 219.3L265.9 217.8L264.8 217.3L264.2 216.4L262.1 216.8L261.1 215.9L261.8 213.5L260.8 212.8L258.1 213.8L257.1 212.9M248.4 243L246.9 244.1L248.9 245.8L249 247.2L248.7 248.5L246.5 249.5L246.2 248.3L245 247.8L243.6 248.6L242.3 248.6L242.4 247.6L241.4 246.5L241.1 245.1L240.8 243.5L241.4 242.3L244.2 243L244.8 241.9L244.6 243.2L245.9 242.9L247.2 242.8L248.8 242M252.5 252.2L251.2 253.4L252 254.7L251.4 255.9L254.2 257.3L251.6 258.4L251 257.5L249.9 258.5L248.8 258.5L247.6 259.4L246.5 257.8L246.1 256.5L246 254.8L244.3 254.8L243 254.3L243.1 252.5L245.3 251.8L245.5 250.6L246.6 249.4L248 251.3L249.1 251.4L250 252.9L251.4 251.7L252.3 252.9M231.4 243.6L232.4 244.6L233 245.7L232.9 247.1L233.8 248.1L233.6 249.5L232.3 250.7L230.9 249.8L229.6 249.8L228.7 249L229.1 247.2L226.7 247L229.4 246.6L229.5 244.9L230 243.6L231.3 243.3M256 271.1L256.7 269.5L253.3 269.4L252.6 267.8L254.1 266.5L256.4 265L253.5 264.1L256.9 262.5L255.1 261.5L254.9 260.4L255.8 259.4L255.9 258.2L255.9 257L257 258.8L258.2 258.1L259.4 257L260.6 254L261.8 255.2L264.4 257.3L261.1 260.6L260 259.8L262.8 262.4L260.2 262.8L263.5 265.6L259 265.8L263.7 266.8L259.2 268L260.3 269.1L258.6 268.9L258.7 270.2L258.7 271.3L257.4 273.6L256 273M264.4 271.8L267.3 270.2L262 269.3L266.1 267.7L264.3 266.5L267.3 265.2L264.4 264L263.5 262.7L261.1 261.4L263.5 260.1L265.6 263.2L266.7 263.2L266.9 257.9L267.2 262.1L270.2 259L270 261.8L271.6 261.3L272.4 260.1L273.6 261.3L274.9 263.3L276.1 262.9L277.1 260.4L278.6 259.1L279.8 258.4L280.3 264.9L281.7 262.2L282.7 261L283.3 259.7L282.8 257.1L285.4 257L287.9 261.6L288.6 258.9L288.7 260.7L287.5 263.6L290.2 263L293.3 262.1L294.9 262.5L295.2 264.1L296.6 266L296.7 267.5L297.4 268.8L296.2 271.1L295.1 272.3L295.5 273.7L295.4 275L293.5 275.4L293.8 277.7L291.9 272.8L289.9 277.6L289 274.7L287.4 276.2L286.1 275L284.3 278.5L284.1 271.4L282.5 271.9L279.8 277.4L278.5 274.6L280.3 270.2L278.6 270.2L276.2 271.6L274.6 270.4L275.5 275.4L273.6 271L271.8 274.8L270.8 273.9L270.6 269L268.1 272.6L267.2 270.9L265.5 270.5L264.5 272.2M271.7 260.9L272.3 260L270.9 258.1L275.6 259L274.3 257.2L274.8 256.9L276.8 258.2L275.6 253.2L278.5 256.4L278 252.8L280.4 253.4L281.3 254.3L281.4 257.1L282 258.6L282.9 258.1L285.6 257.7L285.2 260.9L283.7 260.7L283.1 261.7L281.2 261L280 261.2L279.2 263.8L277.9 263.5L275.8 259.8L275.4 260.6L273.4 263.8L273.4 259.1L271.7 261.2M264.9 228.9L264.9 231.2L262.5 230.2L262 231.7L259.5 230.7L259.2 232.6L259.4 234.2L257.5 235.4L260.4 236.8L257.8 238L259.7 239.3L258.5 240.5L259.6 242.9L260.9 242.7L262.3 242.3L263 243.6L263.4 239.8L265.5 240.7L267.5 241.7L268.3 240.6L267.4 238.3L266.3 237.1L266.7 235.7L267 234.4L266.5 232.4L270.3 233.3L269.9 231.5L268.3 230.5L266.5 231.3L265.6 230.2L264.7 229.2M260.1 243.1L259.8 244.3L259.1 245.5L260.3 247L257 247.6L257.8 249L257.4 250.2L260 250.3L261.3 252.2L262.7 251.8L264.1 251.1L262.4 249.1L264.3 248.3L267.1 247.7L265.3 246.1L264.6 244.8L264.1 243.9L262 245.7L261.1 244.4L260.5 241.8M257.1 252L257.5 253.5L256.9 254.5L255.7 255L256.8 254L257.9 256L259.2 254L259.5 254L259.4 252.8L258.7 251.6L256.8 252.9M271.5 225.5L269.8 226.4L270.7 228L271.4 229.5L268.8 230.1L270 231.8L268.6 232.8L270.8 231.7L272.1 232.1L273.3 234.6L274.6 232L272.5 230.2L274.1 229L273.3 228.3L272.2 227.8L271.2 227.1L271.1 225.9M273.5 245.5L272.1 246.1L273.1 247.9L271.3 248.3L271.9 249.9L270.5 250.4L272.2 250.2L273.5 250.6L274.7 250.5L275.7 248.9L277.1 250.5L276.3 248.6L277.2 247.4L276.3 246L274.9 245.8L273.8 244.9M270.3 252L270.5 253.3L270.8 254.5L272.1 254L273.3 254L274.3 253.4L272.9 253L271.4 253.1L270.1 252.7M272.1 235.9L272.8 237.4L271.4 238.5L271.3 239.9L272.6 239L273.9 238.9L275.1 238.6L274.4 237L273.2 236.8L272.2 235.6M276 238.2L274.9 239L276 240.4L275.3 241.3L276.2 240.5L277.2 240.2L276.2 240.4L276.7 239L275.6 238.4M267.9 253.2L267.9 254.7L267.6 256.2L268.8 255.1L270.5 255.5L269.5 253.4L268.5 252.5M267.8 227.2L267.3 228.2L267.1 229.4L267.6 229.7L268.6 230L268.5 228.3L267.2 227.4M206 313.5L206.9 313.9L207.4 315L206.6 315.4L205.6 315.2L205.8 313.5M198.8 309L199.9 310L198.8 310.3L197.7 309.6L199.2 309.4M228.1 358.6L228 357.3L227.9 356L229.4 354.7L229.6 353.4L226.9 352.2L227.6 350.9L227.6 349.6L227.6 348.2L228.4 346.6L226.9 345.8L227.9 345.7L227.1 344.2L225.2 342.6L225.6 341.5L224.4 340L227.6 339.6L226.5 337.7L227.6 337L227.5 335.6L227.4 334.2L231.6 335.1L230 332.9L232.2 332.9L234.1 332.9L232.1 329.9L234 329.9L232.8 327.5L233.3 326.6L236.7 327.1L234.4 324.3L239.3 325.8L236.5 322.6L240.1 323.3L240.7 323.7L238.9 319L240.9 319.8L242.2 319.6L242.3 317.8L243.4 317.2L245.3 317.8L246.4 318.2L247.6 317.1L248.8 318.9L249.9 318.5L251.1 318.6L249.1 316.4L254 317.1L251.7 315.1L251.9 314L250.8 312.7L251.5 311.6L253.4 310.6L252.6 309.3L255.2 310.7L254.9 307.9L255.7 306.9L258.1 308.4L259 307.7L260.9 306.9L261.1 305.6L260.7 303.7L262.5 303.6L260.3 300.4L260.9 299.3L261.3 298L264.9 299.5L266.2 299.1L264.5 296L267.6 297.2L266.2 294.4L269.5 294.8L266.3 292.5L267.3 291.5L267.8 290.4L269 289.5L269.9 287.7L268 287.1L268.9 285.1L264.6 285.7L267.4 283.3L264.2 282.1L264.2 280.8L267 279.5L269.6 280.4L269.6 278.8L270.6 278.2L269.6 275.2L273 277.9L273.9 277.1L273.8 274.9L273.6 276.6L275.4 275.9L275.6 277.9L277.7 276.6L278.2 277.9L279.8 276.4L280.9 278.7L282.3 278.1L283.4 279.6L285.4 280.2L286.3 279.5L287.1 277.9L288.3 277.9L289.3 274.8L290.7 274.2L291.9 275.2L293.1 277.4L294.8 277L295.9 277.7L297.3 277.9L297.4 280.3L299.7 279.2L300.8 280.1L302.8 279.5L302.3 284.1L303.8 281.1L304.7 283.7L306.2 280.9L306.8 283.4L307.9 283.4L309.3 282.6L309.1 284.8L309.6 286.1L311.8 286.8L311.2 288.5L313.3 289.6L309.3 291.8L314 292.4L314.6 291.6L313.8 294.8L315.3 295.3L317.2 295.3L316.6 298.6L313.1 296.9L313.4 299.1L312.4 300L312 301.2L309 300.3L311.8 304.3L309.9 304.3L309.6 305.2L309 306.1L306.8 306.4L305.5 307L306 308.4L307.6 310.7L307.2 311.8L304.8 311.7L303.9 312.9L304.4 314.1L305 315.4L303.6 316.4L304 317.5L304.6 319.4L303.9 320.3L302.6 320.8L302.7 321.7L302.8 322.9L299.4 323.3L302.7 325.2L301.3 327.9L298.3 325.9L297 326.4L296.8 328.7L296.1 329.4L295.7 330.8L294.9 331.9L295 333.6L290.8 333.3L292.8 335L292.3 336.1L293.6 337.6L290.1 337.8L293.5 340.7L293 342L289.6 342.3L288.7 340.8L287.6 340.1L286.3 340.8L288.7 340.6L285.5 343.7L288.4 343.9L286.8 344.5L285 343.4L284.2 345.5L283.1 347.5L281.5 346.8L280.3 348.3L278.7 344.2L276.7 348.2L275.4 347.7L274.2 346.3L273.1 344.7L272.3 347.4L270.8 345.5L269.8 346.5L268.3 345L267.6 347.9L266.4 348.5L265.2 349.1L263.8 345.8L262.5 344.5L261.7 349.7L259.9 348.4L258.6 347.8L257.4 346.4L255.8 347.8L254.8 346.5L253.6 345.5L252.2 348.7L251.2 345.7L250.4 347.3L250.5 349.6L249.3 350L247.4 349.3L246.8 350.7L243.8 348.4L244.6 352.5L241.7 349.1L241.8 352.7L239.3 350.1L239.6 354L237.4 352.3L236.7 353.8L235.1 353.7L236.2 357L234.9 357.4L232.3 356L232.9 358.7L230.5 356.5L229.7 359.4L227.9 357.2M248.8 312.3L250.3 312.3L251.8 311.6L253 314.1L251.5 313.3L251.5 314.6L250.7 315.6L249.7 316.7L249.3 314.1L247.7 313.6L248.5 312.3M266.3 187.6L238.7 153.5L234.6 155.7L227.9 154L228 157.7L227.3 160.5L224.5 159.8L218.8 159.5L211.6 157.3L204.7 158.5L203.8 158.1L200.8 154.8L200.6 152.8M164 153.9L162.3 156.5L160.7 159.2L159.1 161.9L157.5 164.6L156 167.4L154.5 170.1L153.1 172.9L151.7 175.7L150.3 178.6L149 181.4L147.8 184.3L146.6 187.2L145.4 190.1L144.3 193.1L143.3 196L142.3 199L141.3 202L140.4 205L139.5 208L138.7 211L138 214.1L137.2 217.1L136.6 220.2L136 223.3L135.4 226.3L134.9 229.4L134.4 232.5L134 235.7L133.7 238.8L133.4 241.9L135.4 242.1L131.7 243.6L130.8 249L128 254L127.5 260.8L129.1 264.6L127.2 268.4L122.6 277.1L120.7 278.7L120.8 280.1L119 282.5L117.4 282.7L115.3 286.6L113.3 287.2M122.9 326.5L125.7 328.2L128.8 329.1L133 328.7L137.6 330L138.3 333.1L137.8 335.2L131 337.9L129.2 340.3L128.3 342.3M332.3 439.9L334.4 441.8L337.8 444.1L339.7 444.2L340.1 446L343.3 447L345.1 447.3L351.5 448.8L350.5 456.1L348.5 456.9L348.3 458L346.8 460.7L346 462.9L345.8 464.3L348.5 462.6L348.7 464.2L349.5 465.1L350.1 467.2L348.5 469.5L350.1 470.3M349.5 465.1L352.7 464.5L354.1 461.9L356.7 464.4L357.2 460.9L360 459.9L361 458.4L363 458.5L366.9 456.4L367.9 457.8L372.6 457.7L371.9 459.5L373.1 461.4L374.1 462.2M350.5 456.1L353.8 455.1L357.4 455.4L357.7 457.9L361 458.4M357.4 455.4L360.5 454.8L362.3 455.2L366.2 453.4L369 453.3L368.6 451.5L367.6 449.9L369.5 447.7L370.4 446.4L365.9 444L363 440L365.4 439L369.2 435.5L370.8 435.3L369 429.8L368 428L366.3 426.1L365.5 420.9M348.4 419.4L352.2 419.3M345.5 427.7L345.3 431.3L344.7 433.9L342.8 435.6L343.6 437.5L343.3 440.8L344.8 442.7L344.1 443.8L343.3 447M334.9 438.5L337.7 438.3L339.8 437.6L342.5 438.9L342.3 440.7L343.3 440.8M344.1 443.8L345.4 445.4L345.1 447.3M370.8 435.3L374.8 435.5L378 436.1L380.8 436.3L385.3 438L388.8 438.4L391.9 436.4L397.5 435.6L397 433.1L399 427.2L395.9 423.1L394.6 420.4L394.3 417.2L390.8 412.3L388.1 411L379.9 413.7M388.1 411L386.6 408.2L382.5 408.5M390.8 412.3L393.3 410.6L396 407.7L394.2 405.3L395.9 402.3L395.1 400.7L389.8 399.8L384.2 401.7L380.3 404.9M395.1 400.7L397.8 396.6L394.1 392.2L392.7 391.6L389 392.1L386.3 392.3L384.9 393.5M392.7 391.6L390.9 387.3L389.6 385.3L389.9 382.7M387 378.2L388.3 372.4L388.7 364.4L384.1 362.8L383.1 359L378.9 354.9L376.8 350.2L373.2 347.4L371.3 345.8L370 342.1L370.9 337.5M370 342.1L369.6 339.9L366.4 338.5L364.4 341.6L365 343.9L364.7 347.1L360.9 348.2L357.5 347.8L364.3 350.8L366.9 356.8L369.1 359.4M357.5 347.8L354.4 351.6L352.5 357L351.4 364.1L351.4 371.4L349.7 377.1L351.7 386.3L353.2 387L352.4 388.6L352.4 394L352.5 398.4L351.6 398.6M370.4 446.4L373.8 444.2L380.7 444.3L385.3 438M380.7 444.3L382.2 447.1L380.8 450.2L380.4 453.8L377 456.1L372.6 457.7M382.2 447.1L387.9 446.3L391.1 443L397.6 439.4L397.5 435.6M397.6 439.4L400.8 440.3L398.5 450.7L395.6 452.6L391.4 455.2L386.5 456.6L382.3 455.1L380.4 453.8M382.3 455.1L379.6 457.5L379.5 461.3L373.5 462.9M391.4 455.2L393 458.8L393.8 460.2M393.1 459.3L386 461.1L382.4 462.2L382.1 463.9M395.6 452.6L401.3 455.8L402.2 457.1M400.8 440.3L407.7 438.9L411.7 433.9L419.5 437.6L423.3 443.9L428.9 442.6M411.7 433.9L414.8 430.9L421.4 433.1L426.7 436.6L423.3 443.9M395.9 423.1L399 419.5L406.8 417.9L415.5 414.2L416.9 408.7L421.4 404.3L429.6 406.9L431.3 409.3L439.4 406.5L445.7 403.3L449.9 410.5L448.7 417.3M416.9 408.7L412.8 404.8L415.5 401.3L407.4 398.7L405.7 395.2L397.8 396.6M479.4 393L476.9 394.2L468.1 393.3L465.4 393.1L463.6 389.1L460.9 387.5L464.7 382.5L462.1 380.2L462.1 371.6L466 368.3L468.5 365.9L474.5 364.4L476 357.7L478.9 353.5L482.7 352.5L484.4 346.5L481.9 344.7L477 347.3L474.6 342.5L472.3 340.5L471.9 336L474 328.3L474.2 319.1L475.4 311.8L480.9 312.4L483.9 306.4L485.9 306.4L484.7 297.6L484.4 296.7L490.4 294.7L503.9 290.8L504.5 280L512.1 274.6L515.1 268.1M515.1 268.1L524.9 274.9L523.5 283.6L532 287.2L535.2 286.9M515.1 268.1L514.7 266.4L511.2 260.1L506.5 251.8L509.7 244.5L510.5 235.2L505.8 232.6L498 231.9L500.1 221.1L503.5 220L502 209.8L504.2 198.9L498.5 185.8L491.5 174.9M514.7 266.4L518.8 264.2L522 258.8L528.1 255.5L535.4 255.8L537 255.4M491.5 174.9L500.8 174.8L500.6 170.8L498.2 167.3L497.5 165L499.1 159.3L500.6 157.7L505.3 165.2L511.4 167L515.5 171.9L519.2 173.9M491.5 174.9L491.4 170.9L486.6 168.3L479.2 169.6L473.8 170.3L469.1 170.3L465.1 165.8L463.6 159.7L471 146.5L473 144.9L471.4 135.6L473.3 130.8L470.4 125.1L462.9 121.8L467.8 119.4L478.8 114.4L479.8 114M338.5 402.4L337.5 401.2L336.6 399.9L338.2 397.1L338 397L338.8 395.8L336.4 394.9L335.9 393.6L338 391.5L336.1 390.9L336.6 389.6L333.3 388.5L337.3 386.7L336.2 386L334.5 384L337 383.6L340 384.3L337.9 380.5L339.2 379.7L341 379.3L341.7 377.9L342.2 376.2L344.9 378.3L345.6 376.3L345.8 374.8L347.8 374.4L345.7 372.4L346.2 371.4L346.8 370.4L346.5 369L345.5 367.3L347.4 367.1L345.8 365.7L347.7 364.8L349.6 363.9L348.2 362.5L348.6 361.4L351.2 360.8L347.1 358.4L348.9 357.6L348.4 356L350.2 355.1L350.3 353.7L351 352.4L353 351.6L354.3 350.5L354.2 349.2L355 348.3L352.1 346.2L353.6 345.3L355.6 344.9L354.3 342.3L355.4 341.7L355.6 340.4L358.6 341L358.7 339.5L361 339.5L361.8 339.2L362.3 338.3L360.4 335.3L362.3 335L363.1 332.8L365.5 336.1L366.7 335.9L367.8 335.6L368.8 336.1L370 335.3M346.8 357.6L346.8 356.1L348.1 355.1L349.1 354.2L349.7 352.9L349.8 351.3L349.9 349.8L349.4 351.1L350.5 352.2L349.8 353.3L349.9 354.7L349.8 356.3L347.6 355.9L346.4 356.1L346.8 357.6M165.1 155L166.8 156.2L167.8 154L168.4 151.6L170.3 152.8L171.3 151.6L172.7 151L175 153.6L175.1 150.6L176.7 151.7L177.3 150L178.8 150.1L180.3 149.9L181.2 150.3L182.7 149.9L183.2 150.9L184.3 151.4L187.1 149.3L187.2 152.4L187.6 148.9L189.1 151.4L191.1 149.6L191.6 151.8L192.4 150.7L193.6 150.4L194.8 152.7L196.4 149.8L197.1 152.8L198.1 153.9L200.5 151L201 152.4L202.2 152.8L202.2 153.5L202.7 151.8L204.5 153.2L205.3 150.7L205.6 155.5L207.8 154.1L209.2 154.1L210 157L211.9 153.8L212.7 155.8L213.7 156.8L215.3 154.8L215.5 157.1L216.5 158.9L218.7 156.4L220.6 158.3L221.1 156.2L220.5 158.6L222.1 158.8L223.1 159.7L224.1 160.6L226.4 156.6L225.4 155.7L221.3 157.2L225.7 155.8L224.7 153.8L225.2 154.5L226.4 155.6L227.3 154.5L228.3 154.5L229.5 153L230.6 155.2L231.8 152.8L233 153.2L234.1 153.3M243.8 148.4L245.1 148.1L246.4 146.7L247.9 148.3L249.3 149L250.6 148L252.1 149.5L253.1 147.3L252.7 145.3L253.4 145.2L253 144.2L253.6 142.8L251.7 142.2L253.8 141.1L252.8 139L255.4 138.6L255.3 137.5L255.6 136.1L256.9 135.8L257.8 135.3L258.3 136.1L257.8 137.6L258.7 138.5L259.5 139.4L259.5 140.6M261.9 136.7L260.8 135.5L262.8 134.5L261.5 133.3L261.3 132.1L262.1 130.7L260.8 130.3L259.9 129.5L260.4 128.6L259.8 127L262.3 126.7L261.2 124.8L263.3 124.2L262.2 122.3L262.7 121L264.5 120.2L264.3 118.8L265.7 118.1L265.2 116.6L266.3 115.8L265.2 113.9L266.7 113.3L267.1 111.9L268.7 111.7L269.1 110.4L270.7 110.1L270.5 108.3L271.8 107.8L272.5 106.8L273.8 106.5L274.5 105.5L274.9 104.1L276.4 103.7L277.7 103.4M254.8 204.9L253.5 203.6L252.8 205.3L251.6 205.2L250.4 204.9L249.3 204.8L248.5 207.4L248.1 207.6L248.8 208.6L248.5 208.4L247 208.5L246.1 209.8L245.7 211L245.5 212.7L244.6 213.8L243.3 214.4L241.1 213L240 213.9L239.4 215.5L238.2 215.9L237.2 216.6L235.1 215.4L234.8 217.5L233.3 217L233.1 218.7L231.6 218.4L232.9 220.6L230.1 221L230.7 222.5L231.4 224L229.5 224.7L231.7 225.4L231.4 226.8L232.9 227.2L231.7 229.1L230.8 230.1L232.5 231.4L231.1 232.6L231.1 233.5L230 233.9L229 234.2L227.5 233.5L228.7 235.8L226.7 236.1L226.4 237.2L225.6 238.1L226.5 239.7L225.9 240.9L224.6 242L226.3 243.6L226.7 243.2L227 245.1L228.2 245.8L227.5 246.8L225.4 247.1L227.5 248.8L228.3 249.9L230 248.8L231.1 249.2L232.2 249.7L233.2 251.1L234.4 250.6L235.5 249.4L236.7 248.5L237.9 249.5L239.1 251.2L240.3 250.3L240.9 251.3L241.4 252.8L242.8 253.1L241.9 252.6L241.2 254.2L240.4 255.4L238.3 254.1L237 253.5L236.3 255.9L235.1 256.3L233.5 254.8L232.2 254.5L231.3 256.8L230.7 258L230.1 257L229.3 259.2L227.9 258.1L226.9 259.2L227.1 261.1L224.4 260.2L224.5 262.1L224.1 263.5L224.4 263.5L225.7 263.9L227.4 263.2L228.2 264.8L229.8 264.2L230.5 266L232.4 264.5L233.4 265.6L232.5 267.7L234.3 269L232.1 270.5L234.8 271.8L231.8 270.9L231 272.1L230.4 273.8L228.6 272.1L227.7 273L226.9 272.6L225.7 272.6L224.3 275L223.2 274L222.2 271.8L220.8 274.8L219.7 272.8L218.4 274.1L218.9 271.3L216.5 271.1L216.5 269.5L214.9 268.6L215.9 266.6L214.4 267.2L213.3 268.2L212.1 268.5L211 268.4L209.6 266.2L208.4 266L208 265.9L208.8 264L205.8 263.6L206.1 262.3L205.6 261.3L205.4 260.1L206 258.6L203 259.3L202.2 258.3L201.2 257.6L201.1 255.8L200 255.1M201.1 285.3L199.7 286.8L199.9 288.1L200.4 289.4L201.4 290.6L201.3 291.9L202.4 293.2L200.8 294.1L199.6 295.2L202.1 297.1L199.2 297.7L199.2 299L201.1 300.7L201 302L198.2 302.9L199.7 304.4L197.9 303.7L198 306.6L196.4 306.1L195.6 307L194.9 308.4L193 307.3L191.8 307.6L191.7 310.1L191.4 310.3L189.7 311.1L191.3 313L188.7 313.4L190.2 314.7L191.3 315.5L193 315.7L193.3 317.5L194.8 318.8L196 316.7L197.3 315.8L198.7 318.4L199.9 316L201.2 315.6L199.7 317.3L199.3 318.6L198.1 319.1L197.3 320.1L198 322.1L196.8 322.7L197.2 324.5L194.8 324.3L194.3 325.5L192.7 325.9L191.7 326.7L191.9 328.6L192.4 330.7L189.2 329.7L189.8 332L188.5 332.6L187.5 333.4L186.9 334.4L187.6 336.3L186.8 337.2L184 336.9L183.6 338.1L184 339.7L184.1 341.2L185.3 342.3L184.7 343.6L185.3 344.8L184.8 346.1L183.6 346.7L183.2 347.8L183.7 349.5L184.1 351.1L181.5 351.1L180.2 351.9L179.9 353.1L180.3 354.8L178.6 355.4L179 357.3L179.9 359.4M311.6 402.6L310.6 403.3L311.5 404.7L309.6 405.2L309.9 407.3L309.2 408L309.3 409.2L310 410.5L308.4 411.6L307.4 411L308.8 412.7L308.9 414.1L309.2 415.4L308.5 416.6L307.9 417.9M397.5 271.4L396.5 270.4L397.6 269.1L397.3 268L395.9 266.9L396.7 265.5L395.9 264.2L394.9 264.9L393.8 264.3L392.9 262.7L391.3 263.5L390.1 262.4L389.4 261.4L389.1 260.1L388.4 259.1L388.3 257.9L388.1 256.7L386.1 256.2L386.1 254.9L386.7 253.4L384.6 253.1L384.1 252.1L385 250.5L384.3 249L383 248.3L381.5 247.9L380.7 247.2L379.5 246.9L378.4 246.5L377.1 246.3L378.1 244.2L378.4 243L379.4 242.2L381 242L381.4 240.9L380.1 239.9L381.4 238.3L378.9 238.1L380.8 236.7L381.1 235.6L382.1 234.7M324.2 163.7L323.1 162.8L321.5 162.7L320.6 161.6L319.5 160.9L318.3 160.3L317.3 159.4L316.2 158.6L315.3 157.6L314.2 156.5L312.6 156.6L311.3 156L309.9 156L309.2 154L307.8 153.8L306.6 153.8L305.6 153.3L305.4 151.8L305.4 151.2L306 150.2L307 149.3L307.4 148L308.1 147L308.8 145.9L309.8 145L309.4 143.6L310.5 144.1L312.1 143.6L313.6 143.5L314.9 144.4L316 145.7L317.5 145L318.6 145.6L318.8 147.5L319.9 148L321.9 147.3L323.1 148.6L324.8 148L325.8 147.1L326.6 145.9L327 144.7L326.6 143.3M370 335.4L370 336.8L370.4 338.2L371.3 338.5L372 337L373.5 336.8L375 337.8L376.4 336.3L377.7 336.6L378.7 335.9L380 336.4M264.2 264.3L266.4 263.1L265.7 266.8L268.9 263.9L269.2 266L268.9 265L271.6 267.2L271.9 265.2L271.8 262.5L273.2 266.1L273 268L277.4 266.1L277 267.7L278.2 267.5L280 268.2L280.9 267.4L278.5 267.9L283.5 265.8L284.1 266.9L282.3 269.9L283.9 268.8L285.3 268.4L286.8 268.2L285.3 265.5L284.9 267.8L285.3 269.1L286.9 269.9L288.9 270.5L290.3 271.3L289.5 268.6L292.1 269.2M265.8 261.1L267.7 261.2L268.8 261.9L267.1 265.6L269 265.6L270.4 263.5L272.5 265.5L273.8 265.5L274.9 265.2L275.2 263.1L274.3 265.2L275.7 265.9L277.7 265.9L278.3 262.6L280.6 264.6L281.5 263.1L282.9 262.7L285.9 263.9L283.6 266.4L286.5 266.8L284.8 269.4L287.9 267L286.2 271.5L289.9 268.1L288.7 271.9L291.1 270.5L289.5 274.1L291.1 274.4M274.1 271.6L276.3 272.2L277.1 271L276.3 267.9L278.7 268.9L279 270.6L280.2 270.8L281.3 271.1L283 269.8L283.1 272.7L283.7 274.5L284.9 274.6L287.1 272.7L287.5 275.8L290.1 272.6M273 259.1L273.8 257.9L274.9 257.6L276.2 257.4L277.1 256.5L279 255.8L279.2 258.4L279.9 260L280 260L278.6 260L277.7 261.3L275.6 260.2L274.4 259.6L273 259.2M257.4 268.5L256.9 267.3L257.5 266.1L258.1 265L258.1 263.8L256.3 262.1L258.7 261.5L257.7 260L259.9 259.3L258.4 261.3L259.8 261.3L262.2 260.3L261.1 262.5L261.6 263.9L260.8 264.9L260.7 266.2L258 265.8L257.5 267L256.9 268.1M212.3 304.3L214.2 304.3L215.1 303.6L213.4 300.7L216.9 302L215 299L217.4 299.5L217 297.6L218.8 299.9L219.8 296.7L221.3 300L222.1 295.6L223.6 298.4L224.8 298.4L225.5 296.4L225.3 294.2L226.7 293.9L229.5 295.2L228.7 292.5L229.3 291.2L231.1 291.2L233.5 291.6L233.3 289.6L232.7 287.3L236.3 288.6L236.9 287.3L235.1 284.3L236.4 283.7L238.1 283.3L237.8 281.5L240.3 281.8L238.5 278.9L239.4 278.3L242.4 278.1L243.1 276.9L243.6 275.6L241.7 273.3L244.9 273.2L245.8 272.1L245.6 270.6L245.6 269.1L243.5 267.2L244.2 265.9L246.1 264.7M228.9 301.5L229.5 300.5L231.2 300.1L229.1 297.6L231.5 297.6L233.8 297.6L233.6 296.3L233.7 294.6L235.1 294.2L235.6 292.9L235.1 290.7L236.3 290.1L237.2 289.4L236.5 287.5L239.2 287.4L239.2 285.9L238.7 284.2L240.3 283.5L242.6 283.7L241.2 281.1L243.5 281.3L243.5 279.7L246 280L244.7 277.7L243.5 275.7L246.3 275.8L247.4 275L246.6 273.3L246 271.6M224.5 342.8L223.9 340.6L227 341.8L228.2 341.4L226.8 338.4L228.5 338.4L230.9 339L229.1 335.7L232.3 337L232.9 335.9L234.3 335.7L232.1 331.9L235.8 333.9L233.9 330.3L236.9 331.6L237.5 330.6L237.4 328.8L237.1 326.9L240.5 328.6L241 327.4L240.2 324.9L242.5 325.6L243.9 325.4L243.5 323.3L245.6 323.7L245.7 322.1L246.8 321.3L247.8 320.4L248.4 319L250.3 319.4L250.8 317.7L252.4 317.7L252.4 316.1L254.9 316.3L255.5 315.3L255.1 313.5L255.4 312.3L255.6 311L255.9 309.7L258.2 309.8L257.5 307.8L258.1 306.8L258.6 305.6L258.9 304.4L262.9 305.9L260.5 302.6L263 303L262.3 300.9L265.1 301.3L264 299.1L265.9 298.8L266.9 297.9L268.4 297.3L268.2 295.7L268.8 294.5M235.5 357.6L237.2 357.7L238.2 357L239.3 356.5L239.1 354.5L238.9 352.4L240.6 352.5L242.2 352.5L242.6 351.2L244.1 351.2L245.7 351.9L246 349.3L247.1 348.7L248.3 348.2L250.2 349.1L251.2 348.2L252.7 348.5L252.4 344.7L254.5 346.6L255.8 347.7L257 347.9L257.9 345.1L259.1 345.3L260.5 347.3L261.2 343.5L262.8 346.6L264 346.6L265.2 345.8L266.5 346.6L267.2 343.5L268.7 345.1L270.2 346.4L271 344L272 342.8L273.3 343.2L274.7 343.3L275.9 343.6L277.2 345.1L278.5 341.7L279.8 341.8L281.1 342.5L281 341.9L282.1 341.3L282.6 340.1L283.5 339.2L285.9 340L287.7 340L287.6 338.2L288.5 337.4L289.6 336.6L290.3 335.6L290.3 334.2L292.4 334.3L292.1 332.6L290.8 330.2L294 331.2L292.2 328.2L294.9 328.8L296.4 328.6L295.5 326.3L296.5 325.5L298.9 326L296.7 322.7L298.4 322.5L298.2 320.9L299.4 320L299.5 318.6L301.6 318.2L301.5 316.7L302.9 315.9L303.9 314.9L305.4 314.1L303.4 311.9L305.1 311.2L306.6 310.4L305.7 308.7L306.5 307.6L306.5 306.4L306.3 304.9L306.1 303.3L309.6 304.3L310.7 303.6L310.5 302.1M291.2 278.1L292.7 278.5L294 279L294.8 280.3L295.1 282.6L297.4 281.2L298.4 282.1L299.1 283.6L300.8 283.2L301.4 284.9L302.3 286L304.5 283.7L305.6 284L306.2 286L306 287.7L306.5 288.8L308.9 288.4L309.5 289.7L308.3 291.2L308.9 292.3L308.3 293.6L310.9 294.2M291 341.2L290.2 340.4L289.8 338.9L288.6 338.5L288 337.3L286.2 337.9L285 337.6L283.6 338L282.7 337.4L284.3 337.7L285 336.2L286.5 337.1L287.4 336.6L288.7 335.8L289.9 336.8L290.4 338.4L291.5 337.4L292.6 336.7"/>
<path d="M338.1 314.9L341.6 316.7L342 312.3L343.6 308.4L340.9 307.5L341.2 303.5L338.3 302.6L336.6 302.2L335.1 303.5L333 304.4L334.1 307.9L336.6 310.6L337.7 313.1L338.1 314.9M338.3 301.2L340.3 299L344.4 298.6L344.3 302.2L341.1 303.1L338.7 302.5L338.3 301.2M344.9 311.7L346.9 308.9L344.7 307.4L343.5 309.4L344.9 311.7M354 288.9L354.3 286.7L355.8 285.6L357 287.6L355.7 289L354 288.9M358.5 285.9L357.6 282.5L359 281.3L361.1 282.1L360.6 284.6L358.5 285.9M359.5 280.3L359.6 277.5L361.6 276.5L361.8 279.1L359.5 280.3M356.1 282.3L355.2 278.8L357.2 278.9L357.6 281.7L356.1 282.3M373.4 254.8L374.1 253L371.5 250.8L368.8 251.2L367.8 253.4L369.8 255.5L373.4 254.8M375.9 250L377.3 247.8L374.9 245.5L372.1 247.2L373.1 249.6L375.9 250M161.7 151.9L165 148.9L169.2 147.3L175.6 146.3L180.6 145.7L179.8 148.3L174.9 150.6L171.4 152.1L166.6 152.8L161.7 151.9M191.2 143.1L198.5 143.9L202.8 145.9L199.9 148.3L197.1 145.5L191.2 143.1M208.2 148.7L211.2 152.6L208.3 153.6L204.3 150.8L205.3 148.2L208.2 148.7M214.9 150.2L221.1 153.1L219.9 155.5L216.1 153.9L213.5 150.3L214.9 150.2M258.8 122.1L255.5 124.3L255 127.8L257 130L259.1 126.8L260.4 124L258.8 122.1M228.1 358.6L227.8 352.2L225.6 346.3L227 340.6L230.9 333.3L234.4 328.7L238.3 322.2L244.1 318.4L251.1 318.3L252.3 315.3L253 309.3L258.1 306.2L262.6 300.7L267.3 295.4L269.2 289.6L266.7 284.7L266.5 280.7L269.7 277.3L273.6 274.6L278.4 277.6L283.6 278L287.9 276.8L293.2 277L297.7 279.8L301.4 281.9L306 282.4L309 283.4L311.1 288.6L311.9 292.8L314.1 294.4L316.3 296.4L312.5 300L309.3 303.8L307.4 307.9L305 311.8L304.5 316.5L301.9 320.4L300.9 324.8L296.4 328L293.7 332.8L292.6 337.3L291 341.2L286.4 340.2L288.2 344L284.1 345.2L279.8 346.2L274.4 345.4L267.4 346.5L261.5 347L256 346.4L251.2 346.1L245 350.2L237.9 353.3L232.2 357.8L228.1 358.6M338.5 402.4L338 399.6L336.9 398.2L336.6 394.9L335.8 392.1L335.6 389.7L335.4 386.9L336.3 384.9L338.3 382.8L340.2 380.6L342.2 378.4L344.2 377.2L345.2 374.6L346.5 371.5L347.8 368.3L348.2 364.9L348.8 361.4L349.7 357.8L350.5 355.2L351.3 352.5L352.3 349.8L353.3 346.6L354.4 344.3L356.3 342.6L357.9 340.5L359.2 338.4L361.2 336L363.8 335.2L365.6 335.3L367.7 335.1L370 335.4M165.1 155L166.5 154.7L170.5 153.4L173.2 152.2L177.5 150.5L179.8 149.1L182.8 149.4L185.7 151.3L188 150.8L191.5 152L193.8 151.6L198.3 152.4L201.3 154.2L203.4 153.3L205.6 153L207.8 154.3L210.5 154.9L213.9 155.5L215.8 156.3L218.5 157L221 155.9L225.2 159.1L222.9 156L224 153.6L227.2 153.2L230.7 153.4L234.1 153.6M243.8 148.4L246.5 148.2L249.3 148L252 147.9L253.7 146.3L252.4 142L254.3 138.1L257.7 135.1L259.8 140.5" stroke-width="2"/>
</g>
<path d="M148.4 140.1L145.5 144.5L142.7 149L140 153.5L137.5 158.1L135 162.8L132.7 167.5L130.5 172.3L128.4 177.2L126.4 182.1L124.5 187L122.8 192L121.2 197L119.7 202.1L118.4 207.2L117.1 212.3L116 217.5L115.1 222.7L114.2 227.9L113.5 233.1L112.9 238.4L112.5 243.6L112.2 248.9L112 254.2L111.9 259.5L112 264.7L112.2 270L112.5 275.3L113 280.6L113.6 285.8L114.3 291L115.2 296.2L116.2 301.4L117.3 306.6L118.5 311.7L119.9 316.8L121.4 321.9L123 326.9L124.8 331.9L126.7 336.8L128.6 341.7" fill="none" stroke="#000" stroke-width="1" shape-rendering="crispEdges"/>
<path d="M130 344.8L130 344.9L130.1 345.1L130.2 345.2L130.2 345.4L130.3 345.5L130.4 345.7L130.4 345.8L130.5 346L130.6 346.1L130.6 346.3L130.7 346.4L130.8 346.6L130.9 346.7L130.9 346.9L131 347L131.1 347.2L131.1 347.4L131.2 347.5L131.3 347.7L131.3 347.8L131.4 348L131.5 348.1L131.5 348.3L131.6 348.4L131.7 348.6L131.8 348.7L131.8 348.9L131.9 349L132 349.2L132 349.3L132.1 349.5L132.2 349.6L132.3 349.8L132.3 349.9L132.4 350.1L132.5 350.2L132.5 350.4L132.6 350.5L132.7 350.7L132.8 350.8" fill="none" stroke="#000" stroke-width="1" shape-rendering="crispEdges"/>
<path d="M319.8 471.3L321 471.4L322.3 471.4L323.5 471.4L324.8 471.4L326 471.4L327.3 471.4L328.5 471.3L329.8 471.3L331 471.3L332.3 471.2L333.5 471.2L334.8 471.1L336 471.1L337.3 471L338.5 470.9L339.7 470.8L341 470.7L342.2 470.6L343.5 470.5L344.7 470.4L346 470.3L347.2 470.1L348.5 470L349.7 469.8L350.9 469.7L352.2 469.5L353.4 469.4L354.7 469.2L355.9 469L357.1 468.8L358.4 468.6L359.6 468.4L360.8 468.2L362.1 468L363.3 467.8L364.5 467.5L365.8 467.3L367 467L368.2 466.8L369.4 466.5" fill="none" stroke="#000" stroke-width="1" shape-rendering="crispEdges"/>
<path d="M375.2 465.2L375.2 465.2L375.2 465.2L375.3 465.2L375.3 465.2L375.3 465.1L375.3 465.1L375.3 465.1L375.3 465.1L375.4 465.1L375.4 465.1L375.4 465.1L375.4 465.1L375.4 465.1L375.4 465.1L375.5 465.1L375.5 465.1L375.5 465.1L375.5 465.1L375.5 465.1L375.6 465.1L375.6 465.1L375.6 465.1L375.6 465.1L375.6 465.1L375.6 465.1L375.7 465.1L375.7 465L375.7 465L375.7 465L375.7 465L375.8 465L375.8 465L375.8 465L375.8 465L375.8 465L375.8 465L375.9 465L375.9 465L375.9 465L375.9 465" fill="none" stroke="#000" stroke-width="1" shape-rendering="crispEdges"/>
<path d="M377.7 464.5L379.1 464.2L380.4 463.8L381.8 463.4L383.1 463L384.4 462.7L385.8 462.3L387.1 461.8L388.5 461.4L389.8 461L391.1 460.6L392.4 460.1L393.8 459.7L395.1 459.2L396.4 458.7L397.7 458.2L399 457.8L400.3 457.3L401.6 456.8L402.9 456.2L404.2 455.7L405.5 455.2L406.8 454.6L408.1 454.1L409.4 453.5L410.7 453L411.9 452.4L413.2 451.8L414.5 451.2L415.7 450.6L417 450L418.3 449.4L419.5 448.8L420.8 448.2L422 447.5L423.2 446.9L424.5 446.2L425.7 445.5L426.9 444.9L428.2 444.2L429.4 443.5" fill="none" stroke="#000" stroke-width="1" shape-rendering="crispEdges"/>
<path d="M441.7 435.9L441.8 435.8L442 435.7L442.1 435.6L442.2 435.5L442.4 435.5L442.5 435.4L442.6 435.3L442.8 435.2L442.9 435.1L443.1 435L443.2 434.9L443.3 434.8L443.5 434.7L443.6 434.6L443.8 434.5L443.9 434.4L444 434.3L444.2 434.2L444.3 434.1L444.4 434L444.6 434L444.7 433.9L444.9 433.8L445 433.7L445.1 433.6L445.3 433.5L445.4 433.4L445.5 433.3L445.7 433.2L445.8 433.1L445.9 433L446.1 432.9L446.2 432.8L446.4 432.7L446.5 432.6L446.6 432.5L446.8 432.4L446.9 432.3L447 432.2L447.2 432.1" fill="none" stroke="#000" stroke-width="1" shape-rendering="crispEdges"/>
<path d="M452.5 428.2L453.3 427.6L454 427.1L454.7 426.5L455.4 426L456.1 425.4L456.8 424.8L457.6 424.3L458.3 423.7L459 423.1L459.7 422.5L460.4 422L461.1 421.4L461.7 420.8L462.4 420.2L463.1 419.6L463.8 419L464.5 418.4L465.2 417.8L465.8 417.2L466.5 416.6L467.2 416L467.9 415.4L468.5 414.8L469.2 414.2L469.9 413.5L470.5 412.9L471.2 412.3L471.8 411.7L472.5 411L473.1 410.4L473.8 409.7L474.4 409.1L475.1 408.5L475.7 407.8L476.3 407.2L477 406.5L477.6 405.9L478.2 405.2L478.8 404.5L479.5 403.9" fill="none" stroke="#000" stroke-width="1" shape-rendering="crispEdges"/>
<path d="M489.2 392.7L494.1 386.4L498.7 379.9L503.2 373.3L507.3 366.5L511.2 359.5L514.9 352.4L518.3 345.2L521.4 337.8L524.2 330.3L526.7 322.8L529 315.1L530.9 307.4L532.6 299.6L534 291.7L535 283.8L535.8 275.8L536.3 267.9L536.5 259.9L536.4 251.9L535.9 243.9L535.2 236L534.2 228.1L532.9 220.2L531.3 212.4L529.4 204.6L527.2 196.9L524.7 189.3L521.9 181.8L518.9 174.5L515.6 167.2L512 160.1L508.1 153.1L504 146.2L499.6 139.6L495 133.1L490.2 126.7L485.1 120.6L479.7 114.6L474.2 108.9L468.4 103.3" fill="none" stroke="#000" stroke-width="1" shape-rendering="crispEdges"/>
<g fill="none" stroke="#000" stroke-width="1" stroke-dasharray="4,4" shape-rendering="crispEdges">
<circle cx="324.2" cy="259.1" r="186.5"/>
<circle cx="324.2" cy="259.1" r="137.3"/>
<circle cx="324.2" cy="259.1" r="90.4"/>
<circle cx="324.2" cy="259.1" r="44.8"/>
<path d="M324.2 259.1L324.2 475.6"/>
<path d="M324.2 259.1L511.7 367.3"/>
<path d="M324.2 259.1L511.7 150.9"/>
<path d="M324.2 259.1L324.2 42.6"/>
<path d="M324.2 259.1L136.7 150.9"/>
<path d="M324.2 259.1L136.7 367.3"/>
</g>
<circle cx="323.5" cy="258.5" r="217.6" fill="none" stroke="#000" stroke-width="2.45" shape-rendering="crispEdges"/>
<text x="324.4" y="72.3" font-size="14.5" fill="#fff">50°</text>
<text x="324.4" y="121.5" font-size="14.5" fill="#fff">60°</text>
<text x="324.4" y="168.4" font-size="14.5" fill="#fff">70°</text>
<text x="324.4" y="214" font-size="14.5" fill="#fff">80°</text>
<text x="324.3" y="20.6" font-size="15" text-anchor="middle" fill="#000">180°W</text>
<text x="112" y="143" font-size="15" text-anchor="middle" fill="#000">120°W</text>
<text x="535" y="143" font-size="15" text-anchor="middle" fill="#000">120°E</text>
<text x="111.5" y="387" font-size="15" text-anchor="middle" fill="#000">60°W</text>
<text x="535" y="387" font-size="15" text-anchor="middle" fill="#000">60°E</text>
<rect x="143.8" y="501.2" width="105.2" height="11.5" fill="#660066"/>
<text x="143.8" y="531.5" font-size="12" fill="#000" textLength="105.2" lengthAdjust="spacingAndGlyphs">экстр. дискомфорт</text>
<rect x="258" y="501.2" width="68.4" height="11.5" fill="#996699"/>
<text x="258" y="531.5" font-size="12" fill="#000" textLength="68.4" lengthAdjust="spacingAndGlyphs">дискомфорт</text>
<rect x="335" y="501.2" width="93.8" height="11.5" fill="#cc99ff"/>
<text x="335" y="531.5" font-size="12" fill="#000" textLength="93.8" lengthAdjust="spacingAndGlyphs">усл. дискомфорт</text>
<rect x="436.8" y="501.2" width="73.6" height="11.5" fill="#99ccff"/>
<text x="436.8" y="531.5" font-size="12" fill="#000" textLength="73.6" lengthAdjust="spacingAndGlyphs">усл. комфорт</text>
</svg></body></html>
